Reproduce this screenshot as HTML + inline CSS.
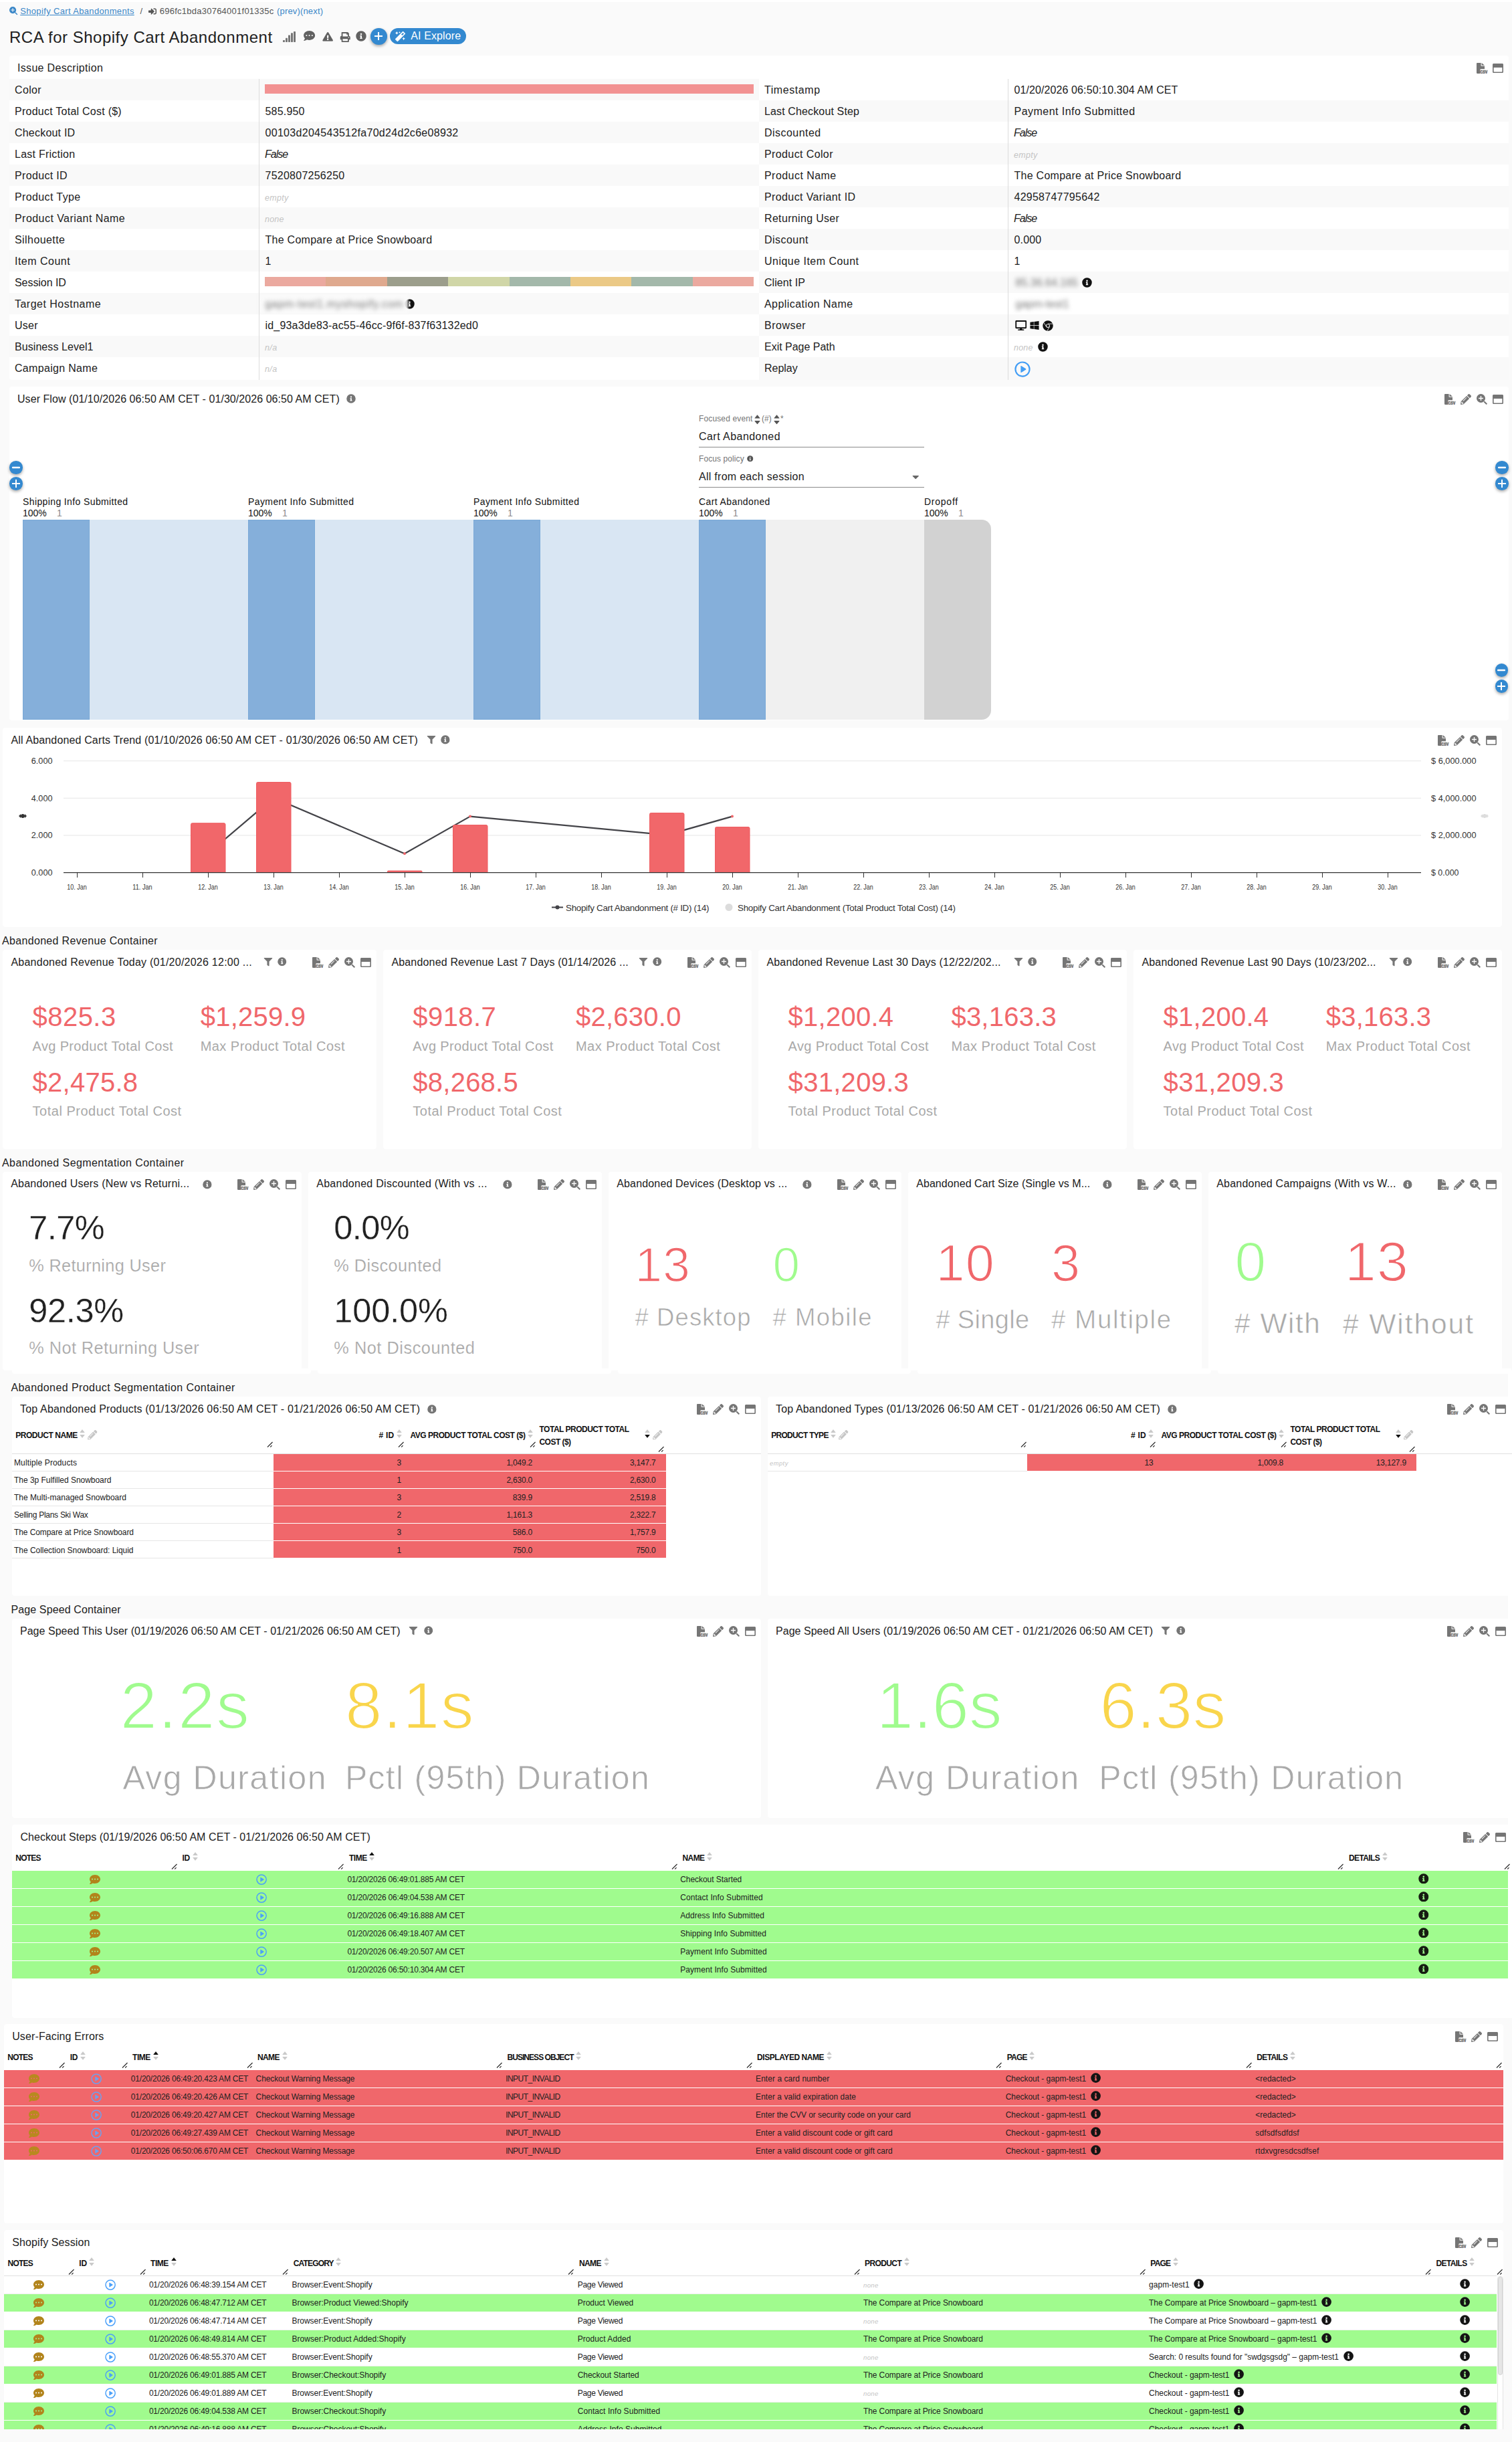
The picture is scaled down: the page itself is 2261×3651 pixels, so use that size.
<!DOCTYPE html>
<html lang="en"><head><meta charset="utf-8"><title>RCA for Shopify Cart Abandonment</title>
<style>
html,body{margin:0;padding:0}
body{width:2261px;height:3651px;background:#fafafa;position:relative;overflow:hidden;font-family:"Liberation Sans",sans-serif;color:#212121}
.t{position:absolute;white-space:nowrap;line-height:1}
.b{position:absolute}
.i{position:absolute;overflow:visible}
.panel{position:absolute;background:#fff;border-radius:4px}
a{color:inherit}
.sortn .up,.sortn .dn{fill:#c4c4c4}
.sortup .up{fill:#111}.sortup .dn{fill:#c4c4c4}
.sortdn .dn{fill:#111}.sortdn .up{fill:#c4c4c4}
.blur{filter:blur(3.2px)}
.fab{position:absolute;border-radius:50%;background:#3389d0;box-shadow:0 2px 4px rgba(0,0,0,.35)}
</style></head>
<body>

<svg width="0" height="0" style="position:absolute">
<defs>
<symbol id="searchplus" viewBox="0 0 512 512"><path fill="currentColor" fill-rule="evenodd" d="M208 0a208 208 0 1 0 0 416a208 208 0 1 0 0-416zM186 96h44v90h90v44h-90v90h-44v-90H96v-44h90z"/><path fill="currentColor" d="M335 380l45-45 123 123q10 10 0 20l-25 25q-10 10-20 0z"/></symbol>
<symbol id="signin" viewBox="0 0 512 512"><path fill="currentColor" d="M416 448h-84c-7 0-12-5-12-12v-40c0-7 5-12 12-12h84c18 0 32-14 32-32V160c0-18-14-32-32-32h-84c-7 0-12-5-12-12V76c0-7 5-12 12-12h84c53 0 96 43 96 96v192c0 53-43 96-96 96zM369 247L201 79c-15-15-41-4-41 17v96H24c-13 0-24 11-24 24v96c0 13 11 24 24 24h136v96c0 21 26 32 41 17l168-168c9-9 9-25 0-34z"/></symbol>
<symbol id="signal" viewBox="0 0 19 16"><g fill="currentColor"><rect x="0" y="13" width="3" height="3" rx=".7"/><rect x="4" y="9.7" width="3" height="6.3" rx=".7"/><rect x="8" y="5.4" width="3" height="10.6" rx=".7"/><rect x="12" y="2.2" width="3" height="13.8" rx=".7"/><rect x="16" y="0" width="3" height="16" rx=".7"/></g></symbol>
<symbol id="comments" viewBox="0 0 576 512"><path fill="currentColor" d="M416 192c0-88-93-160-208-160S0 104 0 192c0 34 14 66 38 92-13 30-35 54-36 54-2 2-3 6-1 9s4 5 8 5c37 0 67-12 89-25 33 16 71 25 110 25 115 0 208-72 208-160z"/><path fill="currentColor" d="M538 412c24-26 38-58 38-92 0-67-54-124-130-148 1 7 2 13 2 20 0 106-108 192-240 192-11 0-21-1-32-2 31 57 105 98 192 98 39 0 76-9 110-25 22 13 52 25 89 25 4 0 7-2 8-5s1-7-1-9c-1 0-23-24-36-54z"/><g fill="#fafafa"><circle cx="120" cy="192" r="26"/><circle cx="208" cy="192" r="26"/><circle cx="296" cy="192" r="26"/></g></symbol>
<symbol id="warn" viewBox="0 0 576 512"><path fill="currentColor" fill-rule="evenodd" d="M570 440c18 32-5 72-42 72H48c-37 0-60-40-42-72L246 24c19-32 65-32 84 0zM288 354a46 46 0 1 0 0 92a46 46 0 1 0 0-92zm-44-165l8 136c0 6 6 11 12 11h48c6 0 12-5 12-11l8-136c0-7-5-13-12-13h-64c-7 0-12 6-12 13z"/></symbol>
<symbol id="print" viewBox="0 0 512 512"><path fill="currentColor" fill-rule="evenodd" d="M448 192V77c0-8-3-17-9-23L393 9c-6-6-14-9-23-9H96C78 0 64 14 64 32v160c-35 0-64 29-64 64v112c0 9 7 16 16 16h48v96c0 18 14 32 32 32h320c18 0 32-14 32-32v-96h48c9 0 16-7 16-16V256c0-35-29-64-64-64zm-64 256H128v-96h256zm0-224H128V64h192v48c0 9 7 16 16 16h48zm48 72a24 24 0 1 1 0-48a24 24 0 1 1 0 48z"/></symbol>
<symbol id="info" viewBox="0 0 512 512"><path fill="currentColor" fill-rule="evenodd" d="M256 8a248 248 0 1 0 0 496a248 248 0 1 0 0-496zm0 110a42 42 0 1 1 0 84a42 42 0 1 1 0-84zm56 254c0 7-5 12-12 12h-88c-7 0-12-5-12-12v-24c0-7 5-12 12-12h12v-64h-12c-7 0-12-5-12-12v-24c0-7 5-12 12-12h64c7 0 12 5 12 12v100h12c7 0 12 5 12 12z"/></symbol>
<symbol id="plus" viewBox="0 0 448 512"><path fill="currentColor" d="M416 208H272V64c0-18-14-32-32-32h-32c-18 0-32 14-32 32v144H32c-18 0-32 14-32 32v32c0 18 14 32 32 32h144v144c0 18 14 32 32 32h32c18 0 32-14 32-32V304h144c18 0 32-14 32-32v-32c0-18-14-32-32-32z"/></symbol>
<symbol id="minus" viewBox="0 0 448 512"><path fill="currentColor" d="M416 208H32c-18 0-32 14-32 32v32c0 18 14 32 32 32h384c18 0 32-14 32-32v-32c0-18-14-32-32-32z"/></symbol>
<symbol id="magic" viewBox="0 0 512 512"><path fill="currentColor" d="M224 96l16-32 32-16-32-16-16-32-16 32-32 16 32 16zM80 160l27-53 53-27-53-27L80 0 53 53 0 80l53 27zm352 128l-27 53-53 27 53 27 27 53 27-53 53-27-53-27zm71-194L418 9c-13-13-33-13-45 0L9 373c-13 13-13 33 0 45l85 85c13 13 33 13 45 0l364-364c12-12 12-32 0-45zM359 203l-50-50 86-86 50 50z"/></symbol>
<symbol id="csv" viewBox="0 0 16.5 16"><path fill="currentColor" d="M1 0H6.6V3.9a.9 .9 0 0 0 .9 .9H12V9.3H6.4a1 1 0 0 0-1 1V16H1.2A1.2 1.2 0 0 1 0 14.8V1A1 1 0 0 1 1 0zM7.6 0L12 3.8H7.6z"/><text x="5.3" y="15.9" font-family="Liberation Mono, monospace" font-weight="bold" font-size="7.6" textLength="11.2" lengthAdjust="spacingAndGlyphs" fill="currentColor" stroke="currentColor" stroke-width=".6">CSV</text></symbol>
<symbol id="pencil" viewBox="0 0 512 512"><path fill="currentColor" d="M498 142l-46 46c-5 5-12 5-17 0L324 77c-5-5-5-12 0-17l46-46c19-19 49-19 68 0l60 60c19 19 19 49 0 68zM284 100L22 362 1 484c-3 16 11 30 27 27l122-21 262-262c5-5 5-12 0-17L301 100c-5-5-12-5-17 0zM124 340c-5-5-5-13 0-18l154-154c5-5 13-5 18 0s5 13 0 18L142 340c-5 5-13 5-18 0zM88 424h48v36l-64 11-31-31 11-64h36z"/></symbol>
<symbol id="window" viewBox="0 0 512 512"><path fill="currentColor" fill-rule="evenodd" d="M464 32H48C22 32 0 54 0 80v352c0 26 22 48 48 48h416c26 0 48-22 48-48V80c0-26-22-48-48-48zm-4 190v194c0 7-5 12-12 12H64c-7 0-12-5-12-12V222z"/></symbol>
<symbol id="filter" viewBox="0 0 512 512"><path fill="currentColor" d="M488 0H24C3 0-8 26 7 41l185 185v206c0 8 4 15 10 20l80 56c16 11 38 0 38-20V226L505 41c15-15 4-41-17-41z"/></symbol>
<symbol id="playc" viewBox="0 0 512 512"><path fill="currentColor" fill-rule="evenodd" d="M256 8a248 248 0 1 0 0 496a248 248 0 1 0 0-496zm0 46a202 202 0 1 1 0 404a202 202 0 1 1 0-404z"/><path fill="currentColor" d="M200 160q0-18 16-9l146 90q14 15 0 30l-146 90q-16 9-16-9z"/></symbol>
<symbol id="cdots" viewBox="0 0 512 512"><path fill="currentColor" fill-rule="evenodd" d="M256 32C115 32 0 125 0 240c0 50 22 95 57 131-13 50-54 95-55 96-2 2-3 6-1 9s4 4 7 4c66 0 116-32 141-52 33 12 69 20 107 20 141 0 256-93 256-208S397 32 256 32zM128 208a32 32 0 1 1 0 64a32 32 0 1 1 0-64zm128 0a32 32 0 1 1 0 64a32 32 0 1 1 0-64zm128 0a32 32 0 1 1 0 64a32 32 0 1 1 0-64z"/></symbol>
<symbol id="desktop" viewBox="0 0 576 512"><path fill="currentColor" fill-rule="evenodd" d="M528 0H48C22 0 0 22 0 48v320c0 26 22 48 48 48h192l-16 48h-72c-13 0-24 11-24 24s11 24 24 24h272c13 0 24-11 24-24s-11-24-24-24h-72l-16-48h192c26 0 48-22 48-48V48c0-26-22-48-48-48zm-16 352H64V64h448z"/></symbol>
<symbol id="windows" viewBox="0 0 448 512"><path fill="currentColor" d="M0 93l184-25v177H0zm0 326l184 25V269H0zm204 28l244 33V269H204zm0-381v179h244V32z"/></symbol>
<symbol id="chrome" viewBox="0 0 496 512"><path fill="currentColor" fill-rule="evenodd" d="M248 8a248 248 0 1 0 0 496a248 248 0 1 0 0-496zM248 164a92 92 0 1 1 0 184a92 92 0 1 1 0-184z"/><circle cx="248" cy="256" r="62" fill="currentColor"/><path stroke="#fafafa" stroke-width="26" fill="none" d="M248 164H470M168 302L58 110M328 302L216 498"/></symbol>
<symbol id="sortud" viewBox="0 0 8 13"><path fill="currentColor" d="M0.5 4.4L3.7 0.5Q4 0.2 4.3 0.5L7.5 4.4Q7.7 4.9 7.2 4.9H0.8Q0.3 4.9 0.5 4.4z"/><path fill="currentColor" d="M0.5 8.6L3.7 12.5Q4 12.8 4.3 12.5L7.5 8.6Q7.7 8.1 7.2 8.1H0.8Q0.3 8.1 0.5 8.6z"/></symbol>
<symbol id="sortn" viewBox="0 0 8 13"><path fill="#c9c9c9" d="M0.5 4.4L3.7 0.5Q4 0.2 4.3 0.5L7.5 4.4Q7.7 4.9 7.2 4.9H0.8Q0.3 4.9 0.5 4.4z"/><path fill="#c9c9c9" d="M0.5 8.6L3.7 12.5Q4 12.8 4.3 12.5L7.5 8.6Q7.7 8.1 7.2 8.1H0.8Q0.3 8.1 0.5 8.6z"/></symbol>
<symbol id="sortup" viewBox="0 0 8 13"><path fill="#111" d="M0.5 4.4L3.7 0.5Q4 0.2 4.3 0.5L7.5 4.4Q7.7 4.9 7.2 4.9H0.8Q0.3 4.9 0.5 4.4z"/><path fill="#c9c9c9" d="M0.5 8.6L3.7 12.5Q4 12.8 4.3 12.5L7.5 8.6Q7.7 8.1 7.2 8.1H0.8Q0.3 8.1 0.5 8.6z"/></symbol>
<symbol id="sortdn" viewBox="0 0 8 13"><path fill="#c9c9c9" d="M0.5 4.4L3.7 0.5Q4 0.2 4.3 0.5L7.5 4.4Q7.7 4.9 7.2 4.9H0.8Q0.3 4.9 0.5 4.4z"/><path fill="#111" d="M0.5 8.6L3.7 12.5Q4 12.8 4.3 12.5L7.5 8.6Q7.7 8.1 7.2 8.1H0.8Q0.3 8.1 0.5 8.6z"/></symbol>
<symbol id="caretdn" viewBox="0 0 320 512"><path fill="currentColor" d="M31 192h258c17 0 26 21 14 33L174 354c-7 7-20 7-28 0L17 225c-12-12-3-33 14-33z"/></symbol>
<symbol id="fplus" viewBox="0 0 12 12"><path fill="currentColor" d="M5 0h2v5h5v2H7v5H5V7H0V5h5z"/></symbol>
<symbol id="fminus" viewBox="0 0 12 12"><rect x="0" y="4.8" width="12" height="2.4" rx="1" fill="currentColor"/></symbol>
<symbol id="rsz" viewBox="0 0 10 10"><path d="M1 9L9 1M5.5 9L8 6.5" stroke="currentColor" stroke-width="1.3" fill="none"/></symbol>
<symbol id="arrh" viewBox="0 0 12 8"><path fill="currentColor" d="M0 4l3-3v2h1.6a2.6 2.6 0 0 1 2.8 0H9V1l3 3-3 3V5H7.4a2.6 2.6 0 0 1-2.8 0H3v2z"/><circle cx="6" cy="4" r="2.9" fill="currentColor"/></symbol>
</defs></svg>

<div class="b" style="left:0.0px;top:0.0px;width:2261.0px;height:3.0px;background:#fff;"></div>
<svg class="i" style="left:14.0px;top:10.0px;width:12.5px;height:12.5px;color:#3a87c8;"><use href="#searchplus"/></svg>
<a href="#">
<span class="t" style="left:30.2px;top:10.0px;font-size:13.00px;letter-spacing:0.349px;color:#3a87c8;text-decoration:underline;">Shopify Cart Abandonments</span>
</a>
<span class="t" style="left:209.5px;top:10.0px;font-size:13.00px;letter-spacing:1.161px;color:#555;">/</span>
<svg class="i" style="left:222.0px;top:10.5px;width:12.0px;height:12.0px;color:#555;"><use href="#signin"/></svg>
<span class="t" style="left:238.8px;top:10.0px;font-size:13.00px;letter-spacing:0.245px;color:#555;">696fc1bda30764001f01335c</span>
<span class="t" style="left:414.0px;top:10.0px;font-size:13.00px;letter-spacing:0.164px;color:#3a87c8;">(prev)(next)</span>
<span class="t" style="left:14.0px;top:43.7px;font-size:24.00px;letter-spacing:0.501px;color:#212121;">RCA for Shopify Cart Abandonment</span>
<svg class="i" style="left:423.0px;top:46.9px;width:19.0px;height:16.0px;color:#757575;"><use href="#signal"/></svg>
<svg class="i" style="left:452.8px;top:44.6px;width:19.2px;height:17.0px;color:#616161;"><use href="#cdots"/></svg>
<svg class="i" style="left:482.1px;top:48.0px;width:16.3px;height:13.8px;color:#616161;"><use href="#warn"/></svg>
<svg class="i" style="left:508.4px;top:47.8px;width:16.5px;height:15.0px;color:#616161;"><use href="#print"/></svg>
<svg class="i" style="left:532.2px;top:46.3px;width:16.0px;height:16.0px;color:#616161;"><use href="#info"/></svg>
<div class="fab" style="left:554.2px;top:42.2px;width:24.4px;height:24.4px"></div>
<svg class="i" style="left:560.4px;top:48.4px;width:12.0px;height:12.0px;color:#fff;"><use href="#fplus"/></svg>
<div class="b" style="left:583px;top:42.2px;width:114px;height:23.4px;border-radius:12px;background:#3389d0"></div>
<svg class="i" style="left:591.0px;top:47.0px;width:15.0px;height:15.0px;color:#fff;"><use href="#magic"/></svg>
<span class="t" style="left:614.2px;top:46.3px;font-size:16.00px;letter-spacing:0.125px;color:#fff;">AI Explore</span>
<div class="panel" style="left:14.0px;top:83.0px;width:2242.0px;height:485.0px;">
</div>
<span class="t" style="left:26.0px;top:93.8px;font-size:16.00px;letter-spacing:0.318px;color:#212121;">Issue Description</span>
<svg class="i" style="left:2232.0px;top:94.0px;width:16.0px;height:16.0px;color:#757575;"><use href="#window"/></svg>
<svg class="i" style="left:2207.7px;top:94.0px;width:16.5px;height:16.0px;color:#757575;"><use href="#csv"/></svg>
<div class="b" style="left:14.0px;top:118.1px;width:1121.0px;height:32.0px;background:#f9f9f9;"></div>
<span class="t" style="left:22.0px;top:126.9px;font-size:16.00px;letter-spacing:0.353px;color:#212121;">Color</span>
<div class="b" style="left:396.0px;top:126.3px;width:731.0px;height:13.4px;background:#f29292;"></div>
<span class="t" style="left:22.0px;top:158.9px;font-size:16.00px;letter-spacing:0.250px;color:#212121;">Product Total Cost ($)</span>
<span class="t" style="left:396.5px;top:158.9px;font-size:16.00px;letter-spacing:0.187px;color:#212121;">585.950</span>
<div class="b" style="left:14.0px;top:182.1px;width:1121.0px;height:32.0px;background:#f9f9f9;"></div>
<span class="t" style="left:22.0px;top:190.9px;font-size:16.00px;letter-spacing:0.207px;color:#212121;">Checkout ID</span>
<span class="t" style="left:396.5px;top:190.9px;font-size:16.00px;letter-spacing:0.301px;color:#212121;">00103d204543512fa70d24d2c6e08932</span>
<span class="t" style="left:22.0px;top:222.9px;font-size:16.00px;letter-spacing:0.241px;color:#212121;">Last Friction</span>
<span class="t" style="left:396.0px;top:222.9px;font-size:16.00px;letter-spacing:-1.019px;color:#212121;font-style:italic;">False</span>
<div class="b" style="left:14.0px;top:246.1px;width:1121.0px;height:32.0px;background:#f9f9f9;"></div>
<span class="t" style="left:22.0px;top:254.9px;font-size:16.00px;letter-spacing:0.341px;color:#212121;">Product ID</span>
<span class="t" style="left:396.5px;top:254.9px;font-size:16.00px;letter-spacing:0.250px;color:#212121;">7520807256250</span>
<span class="t" style="left:22.0px;top:286.9px;font-size:16.00px;letter-spacing:0.382px;color:#212121;">Product Type</span>
<span class="t" style="left:396.0px;top:290.0px;font-size:12.50px;letter-spacing:0.298px;color:#c4c4c4;font-style:italic;">empty</span>
<div class="b" style="left:14.0px;top:310.1px;width:1121.0px;height:32.0px;background:#f9f9f9;"></div>
<span class="t" style="left:22.0px;top:318.9px;font-size:16.00px;letter-spacing:0.450px;color:#212121;">Product Variant Name</span>
<span class="t" style="left:396.0px;top:322.0px;font-size:12.50px;letter-spacing:0.226px;color:#c4c4c4;font-style:italic;">none</span>
<span class="t" style="left:22.0px;top:350.9px;font-size:16.00px;letter-spacing:0.426px;color:#212121;">Silhouette</span>
<span class="t" style="left:396.5px;top:350.9px;font-size:16.00px;letter-spacing:0.266px;color:#212121;">The Compare at Price Snowboard</span>
<div class="b" style="left:14.0px;top:374.1px;width:1121.0px;height:32.0px;background:#f9f9f9;"></div>
<span class="t" style="left:22.0px;top:382.9px;font-size:16.00px;letter-spacing:0.491px;color:#212121;">Item Count</span>
<span class="t" style="left:396.5px;top:382.9px;font-size:16.00px;letter-spacing:0.250px;color:#212121;">1</span>
<span class="t" style="left:22.0px;top:414.9px;font-size:16.00px;letter-spacing:-0.053px;color:#212121;">Session ID</span>
<div class="b" style="left:396.0px;top:413.9px;width:91.7px;height:14.2px;background:#eba99f;"></div>
<div class="b" style="left:487.4px;top:413.9px;width:91.7px;height:14.2px;background:#dfa98e;"></div>
<div class="b" style="left:578.8px;top:413.9px;width:91.7px;height:14.2px;background:#9c9e8c;"></div>
<div class="b" style="left:670.1px;top:413.9px;width:91.7px;height:14.2px;background:#d0d6a7;"></div>
<div class="b" style="left:761.5px;top:413.9px;width:91.7px;height:14.2px;background:#a3b8aa;"></div>
<div class="b" style="left:852.9px;top:413.9px;width:91.7px;height:14.2px;background:#ebc986;"></div>
<div class="b" style="left:944.2px;top:413.9px;width:91.7px;height:14.2px;background:#a3b8aa;"></div>
<div class="b" style="left:1035.6px;top:413.9px;width:91.7px;height:14.2px;background:#eba99f;"></div>
<div class="b" style="left:14.0px;top:438.1px;width:1121.0px;height:32.0px;background:#f9f9f9;"></div>
<span class="t" style="left:22.0px;top:446.9px;font-size:16.00px;letter-spacing:0.488px;color:#212121;">Target Hostname</span>
<svg class="i" style="left:604.5px;top:446.7px;width:15.0px;height:15.0px;color:#111;"><use href="#info"/></svg>
<div class="b" style="left:386px;top:439.6px;width:224px;height:29px;background:rgba(249,249,249,.9);filter:blur(1.5px)"></div>
<span class="t blur" style="left:396.5px;top:446.9px;font-size:16px;letter-spacing:.7px;color:#777">gapm-test1.myshopify.com</span>
<span class="t" style="left:22.0px;top:478.9px;font-size:16.00px;letter-spacing:0.252px;color:#212121;">User</span>
<span class="t" style="left:396.5px;top:478.9px;font-size:16.00px;letter-spacing:0.182px;color:#212121;">id_93a3de83-ac55-46cc-9f6f-837f63132ed0</span>
<div class="b" style="left:14.0px;top:502.1px;width:1121.0px;height:32.0px;background:#f9f9f9;"></div>
<span class="t" style="left:22.0px;top:510.9px;font-size:16.00px;letter-spacing:0.069px;color:#212121;">Business Level1</span>
<span class="t" style="left:396.0px;top:514.0px;font-size:12.50px;letter-spacing:0.356px;color:#c4c4c4;font-style:italic;">n/a</span>
<span class="t" style="left:22.0px;top:542.9px;font-size:16.00px;letter-spacing:0.318px;color:#212121;">Campaign Name</span>
<span class="t" style="left:396.0px;top:546.0px;font-size:12.50px;letter-spacing:0.356px;color:#c4c4c4;font-style:italic;">n/a</span>
<div class="b" style="left:386.5px;top:118.1px;width:1.2px;height:449.9px;background:#dcdcdc;"></div>
<span class="t" style="left:1143.0px;top:126.9px;font-size:16.00px;letter-spacing:0.566px;color:#212121;">Timestamp</span>
<span class="t" style="left:1516.5px;top:126.9px;font-size:16.00px;letter-spacing:0.099px;color:#212121;">01/20/2026 06:50:10.304 AM CET</span>
<div class="b" style="left:1135.0px;top:150.1px;width:1121.0px;height:32.0px;background:#f9f9f9;"></div>
<span class="t" style="left:1143.0px;top:158.9px;font-size:16.00px;letter-spacing:0.133px;color:#212121;">Last Checkout Step</span>
<span class="t" style="left:1516.5px;top:158.9px;font-size:16.00px;letter-spacing:0.466px;color:#212121;">Payment Info Submitted</span>
<span class="t" style="left:1143.0px;top:190.9px;font-size:16.00px;letter-spacing:0.465px;color:#212121;">Discounted</span>
<span class="t" style="left:1516.0px;top:190.9px;font-size:16.00px;letter-spacing:-1.019px;color:#212121;font-style:italic;">False</span>
<div class="b" style="left:1135.0px;top:214.1px;width:1121.0px;height:32.0px;background:#f9f9f9;"></div>
<span class="t" style="left:1143.0px;top:222.9px;font-size:16.00px;letter-spacing:0.389px;color:#212121;">Product Color</span>
<span class="t" style="left:1516.0px;top:226.0px;font-size:12.50px;letter-spacing:0.298px;color:#c4c4c4;font-style:italic;">empty</span>
<span class="t" style="left:1143.0px;top:254.9px;font-size:16.00px;letter-spacing:0.452px;color:#212121;">Product Name</span>
<span class="t" style="left:1516.5px;top:254.9px;font-size:16.00px;letter-spacing:0.266px;color:#212121;">The Compare at Price Snowboard</span>
<div class="b" style="left:1135.0px;top:278.1px;width:1121.0px;height:32.0px;background:#f9f9f9;"></div>
<span class="t" style="left:1143.0px;top:286.9px;font-size:16.00px;letter-spacing:0.388px;color:#212121;">Product Variant ID</span>
<span class="t" style="left:1516.5px;top:286.9px;font-size:16.00px;letter-spacing:0.250px;color:#212121;">42958747795642</span>
<span class="t" style="left:1143.0px;top:318.9px;font-size:16.00px;letter-spacing:0.333px;color:#212121;">Returning User</span>
<span class="t" style="left:1516.0px;top:318.9px;font-size:16.00px;letter-spacing:-1.019px;color:#212121;font-style:italic;">False</span>
<div class="b" style="left:1135.0px;top:342.1px;width:1121.0px;height:32.0px;background:#f9f9f9;"></div>
<span class="t" style="left:1143.0px;top:350.9px;font-size:16.00px;letter-spacing:0.458px;color:#212121;">Discount</span>
<span class="t" style="left:1516.5px;top:350.9px;font-size:16.00px;letter-spacing:0.162px;color:#212121;">0.000</span>
<span class="t" style="left:1143.0px;top:382.9px;font-size:16.00px;letter-spacing:0.473px;color:#212121;">Unique Item Count</span>
<span class="t" style="left:1516.5px;top:382.9px;font-size:16.00px;letter-spacing:0.250px;color:#212121;">1</span>
<div class="b" style="left:1135.0px;top:406.1px;width:1121.0px;height:32.0px;background:#f9f9f9;"></div>
<span class="t" style="left:1143.0px;top:414.9px;font-size:16.00px;letter-spacing:0.046px;color:#212121;">Client IP</span>
<span class="t blur" style="left:1518.5px;top:414.9px;font-size:16px;color:#777">85.36.64.165</span>
<svg class="i" style="left:1618.0px;top:414.7px;width:15.0px;height:15.0px;color:#111;"><use href="#info"/></svg>
<span class="t" style="left:1143.0px;top:446.9px;font-size:16.00px;letter-spacing:0.444px;color:#212121;">Application Name</span>
<span class="t blur" style="left:1518.5px;top:446.9px;font-size:16px;color:#777">gapm-test1</span>
<div class="b" style="left:1135.0px;top:470.1px;width:1121.0px;height:32.0px;background:#f9f9f9;"></div>
<span class="t" style="left:1143.0px;top:478.9px;font-size:16.00px;letter-spacing:0.495px;color:#212121;">Browser</span>
<svg class="i" style="left:1517.5px;top:479.1px;width:17.5px;height:15.0px;color:#111;"><use href="#desktop"/></svg>
<svg class="i" style="left:1540.0px;top:479.1px;width:14.0px;height:15.0px;color:#111;"><use href="#windows"/></svg>
<svg class="i" style="left:1558.5px;top:478.6px;width:16.0px;height:16.0px;color:#111;"><use href="#chrome"/></svg>
<span class="t" style="left:1143.0px;top:510.9px;font-size:16.00px;letter-spacing:-0.019px;color:#212121;">Exit Page Path</span>
<span class="t" style="left:1516.0px;top:514.0px;font-size:12.50px;letter-spacing:0.226px;color:#c4c4c4;font-style:italic;">none</span>
<svg class="i" style="left:1552.0px;top:510.7px;width:15.0px;height:15.0px;color:#111;"><use href="#info"/></svg>
<div class="b" style="left:1135.0px;top:534.1px;width:1121.0px;height:33.9px;background:#f9f9f9;"></div>
<span class="t" style="left:1143.0px;top:542.9px;font-size:16.00px;letter-spacing:-0.021px;color:#212121;">Replay</span>
<svg class="i" style="left:1516.9px;top:539.9px;width:24.0px;height:24.0px;color:#429df5;"><use href="#playc"/></svg>
<div class="b" style="left:1506.5px;top:118.1px;width:1.2px;height:449.9px;background:#dcdcdc;"></div>
<div class="panel" style="left:14.0px;top:578.0px;width:2242.0px;height:499.2px;">
</div>
<span class="t" style="left:26.0px;top:588.5px;font-size:16.00px;letter-spacing:0.059px;color:#212121;">User Flow (01/10/2026 06:50 AM CET - 01/30/2026 06:50 AM CET)</span>
<svg class="i" style="left:517.8px;top:589.0px;width:14.0px;height:14.0px;color:#757575;"><use href="#info"/></svg>
<svg class="i" style="left:2232.0px;top:588.5px;width:16.0px;height:16.0px;color:#757575;"><use href="#window"/></svg>
<svg class="i" style="left:2208.0px;top:588.5px;width:16.0px;height:16.0px;color:#757575;"><use href="#searchplus"/></svg>
<svg class="i" style="left:2184.0px;top:588.5px;width:16.0px;height:16.0px;color:#757575;"><use href="#pencil"/></svg>
<svg class="i" style="left:2159.7px;top:588.5px;width:16.5px;height:16.0px;color:#757575;"><use href="#csv"/></svg>
<span class="t" style="left:1045.0px;top:619.8px;font-size:12.00px;letter-spacing:0.139px;color:#757575;">Focused event</span>
<svg class="i" style="left:1127.8px;top:620.0px;width:9.0px;height:14.6px;color:#555;"><use href="#sortud"/></svg>
<span class="t" style="left:1139.0px;top:619.8px;font-size:12.00px;letter-spacing:0.062px;color:#757575;">(#)</span>
<svg class="i" style="left:1156.6px;top:620.0px;width:9.0px;height:14.6px;color:#555;"><use href="#sortud"/></svg>
<span class="t" style="left:1167.0px;top:619.8px;font-size:12.00px;letter-spacing:1.951px;color:#757575;">*</span>
<span class="t" style="left:1045.0px;top:644.5px;font-size:16.00px;letter-spacing:0.457px;color:#212121;">Cart Abandoned</span>
<div class="b" style="left:1045.0px;top:667.5px;width:337.0px;height:1.0px;background:#8a8a8a;"></div>
<span class="t" style="left:1045.0px;top:679.8px;font-size:12.00px;letter-spacing:0.092px;color:#757575;">Focus policy</span>
<svg class="i" style="left:1116.5px;top:680.5px;width:9.5px;height:9.5px;color:#555;"><use href="#info"/></svg>
<span class="t" style="left:1045.0px;top:704.5px;font-size:16.00px;letter-spacing:0.278px;color:#212121;">All from each session</span>
<svg class="i" style="left:1364.0px;top:705.0px;width:10.5px;height:16.0px;color:#666;"><use href="#caretdn"/></svg>
<div class="b" style="left:1045.0px;top:728.0px;width:337.0px;height:1.0px;background:#8a8a8a;"></div>
<span class="t" style="left:34.0px;top:743.1px;font-size:14.00px;letter-spacing:0.384px;color:#111;">Shipping Info Submitted</span>
<span class="t" style="left:34.0px;top:759.8px;font-size:14.00px;letter-spacing:-0.067px;color:#111;">100%</span>
<span class="t" style="left:85.0px;top:759.8px;font-size:14.00px;letter-spacing:0.218px;color:#8a8a8a;">1</span>
<div class="b" style="left:34.0px;top:777.0px;width:99.6px;height:298.9px;background:#85afda;box-shadow:inset 0 0 0 1px #7aa9d7;"></div>
<div class="b" style="left:134.0px;top:777.0px;width:237.0px;height:298.9px;background:#d9e6f3;"></div>
<span class="t" style="left:371.0px;top:743.1px;font-size:14.00px;letter-spacing:0.408px;color:#111;">Payment Info Submitted</span>
<span class="t" style="left:371.0px;top:759.8px;font-size:14.00px;letter-spacing:-0.067px;color:#111;">100%</span>
<span class="t" style="left:422.0px;top:759.8px;font-size:14.00px;letter-spacing:0.218px;color:#8a8a8a;">1</span>
<div class="b" style="left:371.0px;top:777.0px;width:99.6px;height:298.9px;background:#85afda;box-shadow:inset 0 0 0 1px #7aa9d7;"></div>
<div class="b" style="left:471.0px;top:777.0px;width:237.0px;height:298.9px;background:#d9e6f3;"></div>
<span class="t" style="left:708.0px;top:743.1px;font-size:14.00px;letter-spacing:0.408px;color:#111;">Payment Info Submitted</span>
<span class="t" style="left:708.0px;top:759.8px;font-size:14.00px;letter-spacing:-0.067px;color:#111;">100%</span>
<span class="t" style="left:759.0px;top:759.8px;font-size:14.00px;letter-spacing:0.218px;color:#8a8a8a;">1</span>
<div class="b" style="left:708.0px;top:777.0px;width:99.6px;height:298.9px;background:#85afda;box-shadow:inset 0 0 0 1px #7aa9d7;"></div>
<div class="b" style="left:808.0px;top:777.0px;width:237.0px;height:298.9px;background:#d9e6f3;"></div>
<span class="t" style="left:1045.0px;top:743.1px;font-size:14.00px;letter-spacing:0.400px;color:#111;">Cart Abandoned</span>
<span class="t" style="left:1045.0px;top:759.8px;font-size:14.00px;letter-spacing:-0.067px;color:#111;">100%</span>
<span class="t" style="left:1096.0px;top:759.8px;font-size:14.00px;letter-spacing:0.218px;color:#8a8a8a;">1</span>
<div class="b" style="left:1045.0px;top:777.0px;width:99.6px;height:298.9px;background:#85afda;box-shadow:inset 0 0 0 1px #7aa9d7;"></div>
<div class="b" style="left:1145.0px;top:777.0px;width:237.0px;height:298.9px;background:#f0f0f0;"></div>
<span class="t" style="left:1382.0px;top:743.1px;font-size:14.00px;letter-spacing:0.749px;color:#111;">Dropoff</span>
<span class="t" style="left:1382.0px;top:759.8px;font-size:14.00px;letter-spacing:-0.067px;color:#111;">100%</span>
<span class="t" style="left:1433.0px;top:759.8px;font-size:14.00px;letter-spacing:0.218px;color:#8a8a8a;">1</span>
<div class="b" style="left:1382.0px;top:777.0px;width:100.0px;height:298.9px;background:#d2d2d2;border-radius:0 14px 14px 0;"></div>
<div class="fab" style="left:14.2px;top:689.2px;width:19.6px;height:19.6px"></div>
<svg class="i" style="left:18.0px;top:693.0px;width:12.0px;height:12.0px;color:#fff;"><use href="#fminus"/></svg>
<div class="fab" style="left:14.2px;top:713.2px;width:19.6px;height:19.6px"></div>
<svg class="i" style="left:18.0px;top:717.0px;width:12.0px;height:12.0px;color:#fff;"><use href="#fplus"/></svg>
<div class="fab" style="left:2236.1px;top:689.2px;width:19.6px;height:19.6px"></div>
<svg class="i" style="left:2239.9px;top:693.0px;width:12.0px;height:12.0px;color:#fff;"><use href="#fminus"/></svg>
<div class="fab" style="left:2236.1px;top:713.2px;width:19.6px;height:19.6px"></div>
<svg class="i" style="left:2239.9px;top:717.0px;width:12.0px;height:12.0px;color:#fff;"><use href="#fplus"/></svg>
<div class="fab" style="left:2235.6px;top:992.2px;width:19.6px;height:19.6px"></div>
<svg class="i" style="left:2239.4px;top:996.0px;width:12.0px;height:12.0px;color:#fff;"><use href="#fminus"/></svg>
<div class="fab" style="left:2235.6px;top:1016.2px;width:19.6px;height:19.6px"></div>
<svg class="i" style="left:2239.4px;top:1020.0px;width:12.0px;height:12.0px;color:#fff;"><use href="#fplus"/></svg>
<div class="panel" style="left:4.0px;top:1088.0px;width:2242.0px;height:298.0px;">
</div>
<span class="t" style="left:16.5px;top:1098.5px;font-size:16.00px;letter-spacing:0.144px;color:#212121;">All Abandoned Carts Trend (01/10/2026 06:50 AM CET - 01/30/2026 06:50 AM CET)</span>
<svg class="i" style="left:638.0px;top:1099.5px;width:14.0px;height:12.5px;color:#757575;"><use href="#filter"/></svg>
<svg class="i" style="left:659.2px;top:1099.0px;width:13.8px;height:13.8px;color:#757575;"><use href="#info"/></svg>
<svg class="i" style="left:2222.0px;top:1098.9px;width:16.0px;height:16.0px;color:#757575;"><use href="#window"/></svg>
<svg class="i" style="left:2198.0px;top:1098.9px;width:16.0px;height:16.0px;color:#757575;"><use href="#searchplus"/></svg>
<svg class="i" style="left:2174.0px;top:1098.9px;width:16.0px;height:16.0px;color:#757575;"><use href="#pencil"/></svg>
<svg class="i" style="left:2149.7px;top:1098.9px;width:16.5px;height:16.0px;color:#757575;"><use href="#csv"/></svg>
<svg class="i" style="left:0;top:1120px;width:2261px;height:266px" viewBox="0 1120 2261 266" font-family="Liberation Sans, sans-serif"><text x="78.5" y="1308.8" text-anchor="end" font-size="13.2" fill="#333" textLength="31.7" lengthAdjust="spacingAndGlyphs">0.000</text><text x="2140" y="1308.8" font-size="13.2" fill="#333" textLength="41.5" lengthAdjust="spacingAndGlyphs">$ 0.000</text><line x1="95" x2="2125" y1="1248.9" y2="1248.9" stroke="#e6e6e6" stroke-width="1"/><text x="78.5" y="1253.2" text-anchor="end" font-size="13.2" fill="#333" textLength="31.7" lengthAdjust="spacingAndGlyphs">2.000</text><text x="2140" y="1253.2" font-size="13.2" fill="#333" textLength="67.5" lengthAdjust="spacingAndGlyphs">$ 2,000.000</text><line x1="95" x2="2125" y1="1193.3" y2="1193.3" stroke="#e6e6e6" stroke-width="1"/><text x="78.5" y="1197.6" text-anchor="end" font-size="13.2" fill="#333" textLength="31.7" lengthAdjust="spacingAndGlyphs">4.000</text><text x="2140" y="1197.6" font-size="13.2" fill="#333" textLength="67.5" lengthAdjust="spacingAndGlyphs">$ 4,000.000</text><line x1="95" x2="2125" y1="1137.7" y2="1137.7" stroke="#e6e6e6" stroke-width="1"/><text x="78.5" y="1142.0" text-anchor="end" font-size="13.2" fill="#333" textLength="31.7" lengthAdjust="spacingAndGlyphs">6.000</text><text x="2140" y="1142.0" font-size="13.2" fill="#333" textLength="67.5" lengthAdjust="spacingAndGlyphs">$ 6,000.000</text><line x1="115.5" x2="115.5" y1="1304.5" y2="1312" stroke="#333" stroke-width="1"/><text x="115.0" y="1330" text-anchor="middle" font-size="10" fill="#333" textLength="29.4" lengthAdjust="spacingAndGlyphs">10. Jan</text><line x1="213.5" x2="213.5" y1="1304.5" y2="1312" stroke="#333" stroke-width="1"/><text x="213.0" y="1330" text-anchor="middle" font-size="10" fill="#333" textLength="29.4" lengthAdjust="spacingAndGlyphs">11. Jan</text><line x1="311.5" x2="311.5" y1="1304.5" y2="1312" stroke="#333" stroke-width="1"/><text x="311.0" y="1330" text-anchor="middle" font-size="10" fill="#333" textLength="29.4" lengthAdjust="spacingAndGlyphs">12. Jan</text><line x1="409.5" x2="409.5" y1="1304.5" y2="1312" stroke="#333" stroke-width="1"/><text x="409.0" y="1330" text-anchor="middle" font-size="10" fill="#333" textLength="29.4" lengthAdjust="spacingAndGlyphs">13. Jan</text><line x1="507.5" x2="507.5" y1="1304.5" y2="1312" stroke="#333" stroke-width="1"/><text x="507.0" y="1330" text-anchor="middle" font-size="10" fill="#333" textLength="29.4" lengthAdjust="spacingAndGlyphs">14. Jan</text><line x1="605.5" x2="605.5" y1="1304.5" y2="1312" stroke="#333" stroke-width="1"/><text x="605.0" y="1330" text-anchor="middle" font-size="10" fill="#333" textLength="29.4" lengthAdjust="spacingAndGlyphs">15. Jan</text><line x1="703.5" x2="703.5" y1="1304.5" y2="1312" stroke="#333" stroke-width="1"/><text x="703.0" y="1330" text-anchor="middle" font-size="10" fill="#333" textLength="29.4" lengthAdjust="spacingAndGlyphs">16. Jan</text><line x1="801.5" x2="801.5" y1="1304.5" y2="1312" stroke="#333" stroke-width="1"/><text x="801.0" y="1330" text-anchor="middle" font-size="10" fill="#333" textLength="29.4" lengthAdjust="spacingAndGlyphs">17. Jan</text><line x1="899.5" x2="899.5" y1="1304.5" y2="1312" stroke="#333" stroke-width="1"/><text x="899.0" y="1330" text-anchor="middle" font-size="10" fill="#333" textLength="29.4" lengthAdjust="spacingAndGlyphs">18. Jan</text><line x1="997.5" x2="997.5" y1="1304.5" y2="1312" stroke="#333" stroke-width="1"/><text x="997.0" y="1330" text-anchor="middle" font-size="10" fill="#333" textLength="29.4" lengthAdjust="spacingAndGlyphs">19. Jan</text><line x1="1095.5" x2="1095.5" y1="1304.5" y2="1312" stroke="#333" stroke-width="1"/><text x="1095.0" y="1330" text-anchor="middle" font-size="10" fill="#333" textLength="29.4" lengthAdjust="spacingAndGlyphs">20. Jan</text><line x1="1193.5" x2="1193.5" y1="1304.5" y2="1312" stroke="#333" stroke-width="1"/><text x="1193.0" y="1330" text-anchor="middle" font-size="10" fill="#333" textLength="29.4" lengthAdjust="spacingAndGlyphs">21. Jan</text><line x1="1291.5" x2="1291.5" y1="1304.5" y2="1312" stroke="#333" stroke-width="1"/><text x="1291.0" y="1330" text-anchor="middle" font-size="10" fill="#333" textLength="29.4" lengthAdjust="spacingAndGlyphs">22. Jan</text><line x1="1389.5" x2="1389.5" y1="1304.5" y2="1312" stroke="#333" stroke-width="1"/><text x="1389.0" y="1330" text-anchor="middle" font-size="10" fill="#333" textLength="29.4" lengthAdjust="spacingAndGlyphs">23. Jan</text><line x1="1487.5" x2="1487.5" y1="1304.5" y2="1312" stroke="#333" stroke-width="1"/><text x="1487.0" y="1330" text-anchor="middle" font-size="10" fill="#333" textLength="29.4" lengthAdjust="spacingAndGlyphs">24. Jan</text><line x1="1585.5" x2="1585.5" y1="1304.5" y2="1312" stroke="#333" stroke-width="1"/><text x="1585.0" y="1330" text-anchor="middle" font-size="10" fill="#333" textLength="29.4" lengthAdjust="spacingAndGlyphs">25. Jan</text><line x1="1683.5" x2="1683.5" y1="1304.5" y2="1312" stroke="#333" stroke-width="1"/><text x="1683.0" y="1330" text-anchor="middle" font-size="10" fill="#333" textLength="29.4" lengthAdjust="spacingAndGlyphs">26. Jan</text><line x1="1781.5" x2="1781.5" y1="1304.5" y2="1312" stroke="#333" stroke-width="1"/><text x="1781.0" y="1330" text-anchor="middle" font-size="10" fill="#333" textLength="29.4" lengthAdjust="spacingAndGlyphs">27. Jan</text><line x1="1879.5" x2="1879.5" y1="1304.5" y2="1312" stroke="#333" stroke-width="1"/><text x="1879.0" y="1330" text-anchor="middle" font-size="10" fill="#333" textLength="29.4" lengthAdjust="spacingAndGlyphs">28. Jan</text><line x1="1977.5" x2="1977.5" y1="1304.5" y2="1312" stroke="#333" stroke-width="1"/><text x="1977.0" y="1330" text-anchor="middle" font-size="10" fill="#333" textLength="29.4" lengthAdjust="spacingAndGlyphs">29. Jan</text><line x1="2075.5" x2="2075.5" y1="1304.5" y2="1312" stroke="#333" stroke-width="1"/><text x="2075.0" y="1330" text-anchor="middle" font-size="10" fill="#333" textLength="29.4" lengthAdjust="spacingAndGlyphs">30. Jan</text><polyline points="311.0,1276.2 409.0,1192.8 605.0,1276.2 703.0,1220.6 997.0,1248.4 1095.0,1220.6" fill="none" stroke="#434348" stroke-width="2.2" stroke-linejoin="round"/><circle cx="311.0" cy="1276.2" r="2" fill="#f0676b"/><circle cx="409.0" cy="1192.8" r="2" fill="#f0676b"/><circle cx="605.0" cy="1276.2" r="2" fill="#f0676b"/><circle cx="703.0" cy="1220.6" r="2" fill="#f0676b"/><circle cx="997.0" cy="1248.4" r="2" fill="#f0676b"/><circle cx="1095.0" cy="1220.6" r="2" fill="#f0676b"/><path d="M285.5 1304.3V1232.7Q285.5 1230.7 287.5 1230.7H335.0Q337.0 1230.7 337.0 1232.7V1304.3z" fill="#f1676a" stroke="#ee5d61" stroke-width="1"/><path d="M383.5 1304.3V1171.5Q383.5 1169.5 385.5 1169.5H433.0Q435.0 1169.5 435.0 1171.5V1304.3z" fill="#f1676a" stroke="#ee5d61" stroke-width="1"/><path d="M579.5 1304.3V1303.0Q579.5 1302.0 580.5 1302.0H630.0Q631.0 1302.0 631.0 1303.0V1304.3z" fill="#f1676a" stroke="#ee5d61" stroke-width="1"/><path d="M677.5 1304.3V1235.5Q677.5 1233.5 679.5 1233.5H727.0Q729.0 1233.5 729.0 1235.5V1304.3z" fill="#f1676a" stroke="#ee5d61" stroke-width="1"/><path d="M971.5 1304.3V1217.5Q971.5 1215.5 973.5 1215.5H1021.0Q1023.0 1215.5 1023.0 1217.5V1304.3z" fill="#f1676a" stroke="#ee5d61" stroke-width="1"/><path d="M1069.5 1304.3V1238.5Q1069.5 1236.5 1071.5 1236.5H1119.0Q1121.0 1236.5 1121.0 1238.5V1304.3z" fill="#f1676a" stroke="#ee5d61" stroke-width="1"/><line x1="95" x2="2125" y1="1304.7" y2="1304.7" stroke="#333" stroke-width="1.3"/><line x1="825" x2="842" y1="1356.5" y2="1356.5" stroke="#434348" stroke-width="2"/><circle cx="833.5" cy="1356.5" r="3" fill="#434348"/><text x="846" y="1361.5" font-size="13.4" fill="#333" textLength="214.5" lengthAdjust="spacing">Shopify Cart Abandonment (# ID) (14)</text><circle cx="1090" cy="1356.5" r="5.5" fill="#dcdcdc"/><text x="1103" y="1361.5" font-size="13.4" fill="#333" textLength="326" lengthAdjust="spacing">Shopify Cart Abandonment (Total Product Total Cost) (14)</text></svg>
<svg class="i" style="left:27.5px;top:1216.0px;width:12.0px;height:8.0px;color:#333;"><use href="#arrh"/></svg>
<svg class="i" style="left:2214.0px;top:1216.0px;width:12.0px;height:8.0px;color:#dcdcdc;"><use href="#arrh"/></svg>
<span class="t" style="left:3.0px;top:1399.3px;font-size:16.00px;letter-spacing:0.327px;color:#212121;">Abandoned Revenue Container</span>
<div class="panel" style="left:4.0px;top:1420.0px;width:559.0px;height:298.0px;">
</div>
<span class="t" style="left:16.4px;top:1430.8px;font-size:16.00px;letter-spacing:0.249px;color:#212121;">Abandoned Revenue Today (01/20/2026 12:00 ...</span>
<svg class="i" style="left:539.0px;top:1431.0px;width:16.0px;height:16.0px;color:#757575;"><use href="#window"/></svg>
<svg class="i" style="left:515.0px;top:1431.0px;width:16.0px;height:16.0px;color:#757575;"><use href="#searchplus"/></svg>
<svg class="i" style="left:491.0px;top:1431.0px;width:16.0px;height:16.0px;color:#757575;"><use href="#pencil"/></svg>
<svg class="i" style="left:466.7px;top:1431.0px;width:16.5px;height:16.0px;color:#757575;"><use href="#csv"/></svg>
<svg class="i" style="left:393.5px;top:1432.0px;width:14.0px;height:12.5px;color:#757575;"><use href="#filter"/></svg>
<svg class="i" style="left:415.0px;top:1431.3px;width:13.5px;height:13.5px;color:#757575;"><use href="#info"/></svg>
<span class="t" style="left:48.6px;top:1500.1px;font-size:40.00px;letter-spacing:0.442px;color:#f0676b;">$825.3</span>
<span class="t" style="left:48.6px;top:1553.6px;font-size:20.00px;letter-spacing:0.345px;color:#a9a9a9;">Avg Product Total Cost</span>
<span class="t" style="left:299.7px;top:1500.1px;font-size:40.00px;letter-spacing:0.246px;color:#f0676b;">$1,259.9</span>
<span class="t" style="left:299.7px;top:1553.6px;font-size:20.00px;letter-spacing:0.452px;color:#a9a9a9;">Max Product Total Cost</span>
<span class="t" style="left:48.6px;top:1598.1px;font-size:40.00px;letter-spacing:0.246px;color:#f0676b;">$2,475.8</span>
<span class="t" style="left:48.6px;top:1651.3px;font-size:20.00px;letter-spacing:0.508px;color:#a9a9a9;">Total Product Total Cost</span>
<div class="panel" style="left:573.0px;top:1420.0px;width:551.0px;height:298.0px;">
</div>
<span class="t" style="left:585.4px;top:1430.8px;font-size:16.00px;letter-spacing:0.168px;color:#212121;">Abandoned Revenue Last 7 Days (01/14/2026 ...</span>
<svg class="i" style="left:1100.0px;top:1431.0px;width:16.0px;height:16.0px;color:#757575;"><use href="#window"/></svg>
<svg class="i" style="left:1076.0px;top:1431.0px;width:16.0px;height:16.0px;color:#757575;"><use href="#searchplus"/></svg>
<svg class="i" style="left:1052.0px;top:1431.0px;width:16.0px;height:16.0px;color:#757575;"><use href="#pencil"/></svg>
<svg class="i" style="left:1027.7px;top:1431.0px;width:16.5px;height:16.0px;color:#757575;"><use href="#csv"/></svg>
<svg class="i" style="left:954.5px;top:1432.0px;width:14.0px;height:12.5px;color:#757575;"><use href="#filter"/></svg>
<svg class="i" style="left:976.0px;top:1431.3px;width:13.5px;height:13.5px;color:#757575;"><use href="#info"/></svg>
<span class="t" style="left:617.3px;top:1500.1px;font-size:40.00px;letter-spacing:0.442px;color:#f0676b;">$918.7</span>
<span class="t" style="left:617.3px;top:1553.6px;font-size:20.00px;letter-spacing:0.345px;color:#a9a9a9;">Avg Product Total Cost</span>
<span class="t" style="left:861.0px;top:1500.1px;font-size:40.00px;letter-spacing:0.246px;color:#f0676b;">$2,630.0</span>
<span class="t" style="left:861.0px;top:1553.6px;font-size:20.00px;letter-spacing:0.452px;color:#a9a9a9;">Max Product Total Cost</span>
<span class="t" style="left:617.3px;top:1598.1px;font-size:40.00px;letter-spacing:0.246px;color:#f0676b;">$8,268.5</span>
<span class="t" style="left:617.3px;top:1651.3px;font-size:20.00px;letter-spacing:0.508px;color:#a9a9a9;">Total Product Total Cost</span>
<div class="panel" style="left:1134.0px;top:1420.0px;width:551.0px;height:298.0px;">
</div>
<span class="t" style="left:1146.4px;top:1430.8px;font-size:16.00px;letter-spacing:0.178px;color:#212121;">Abandoned Revenue Last 30 Days (12/22/202...</span>
<svg class="i" style="left:1661.0px;top:1431.0px;width:16.0px;height:16.0px;color:#757575;"><use href="#window"/></svg>
<svg class="i" style="left:1637.0px;top:1431.0px;width:16.0px;height:16.0px;color:#757575;"><use href="#searchplus"/></svg>
<svg class="i" style="left:1613.0px;top:1431.0px;width:16.0px;height:16.0px;color:#757575;"><use href="#pencil"/></svg>
<svg class="i" style="left:1588.7px;top:1431.0px;width:16.5px;height:16.0px;color:#757575;"><use href="#csv"/></svg>
<svg class="i" style="left:1515.5px;top:1432.0px;width:14.0px;height:12.5px;color:#757575;"><use href="#filter"/></svg>
<svg class="i" style="left:1537.0px;top:1431.3px;width:13.5px;height:13.5px;color:#757575;"><use href="#info"/></svg>
<span class="t" style="left:1178.6px;top:1500.1px;font-size:40.00px;letter-spacing:0.246px;color:#f0676b;">$1,200.4</span>
<span class="t" style="left:1178.6px;top:1553.6px;font-size:20.00px;letter-spacing:0.345px;color:#a9a9a9;">Avg Product Total Cost</span>
<span class="t" style="left:1422.4px;top:1500.1px;font-size:40.00px;letter-spacing:0.246px;color:#f0676b;">$3,163.3</span>
<span class="t" style="left:1422.4px;top:1553.6px;font-size:20.00px;letter-spacing:0.452px;color:#a9a9a9;">Max Product Total Cost</span>
<span class="t" style="left:1178.6px;top:1598.1px;font-size:40.00px;letter-spacing:0.288px;color:#f0676b;">$31,209.3</span>
<span class="t" style="left:1178.6px;top:1651.3px;font-size:20.00px;letter-spacing:0.508px;color:#a9a9a9;">Total Product Total Cost</span>
<div class="panel" style="left:1695.0px;top:1420.0px;width:551.0px;height:298.0px;">
</div>
<span class="t" style="left:1707.4px;top:1430.8px;font-size:16.00px;letter-spacing:0.178px;color:#212121;">Abandoned Revenue Last 90 Days (10/23/202...</span>
<svg class="i" style="left:2222.0px;top:1431.0px;width:16.0px;height:16.0px;color:#757575;"><use href="#window"/></svg>
<svg class="i" style="left:2198.0px;top:1431.0px;width:16.0px;height:16.0px;color:#757575;"><use href="#searchplus"/></svg>
<svg class="i" style="left:2174.0px;top:1431.0px;width:16.0px;height:16.0px;color:#757575;"><use href="#pencil"/></svg>
<svg class="i" style="left:2149.7px;top:1431.0px;width:16.5px;height:16.0px;color:#757575;"><use href="#csv"/></svg>
<svg class="i" style="left:2076.5px;top:1432.0px;width:14.0px;height:12.5px;color:#757575;"><use href="#filter"/></svg>
<svg class="i" style="left:2098.0px;top:1431.3px;width:13.5px;height:13.5px;color:#757575;"><use href="#info"/></svg>
<span class="t" style="left:1739.6px;top:1500.1px;font-size:40.00px;letter-spacing:0.246px;color:#f0676b;">$1,200.4</span>
<span class="t" style="left:1739.6px;top:1553.6px;font-size:20.00px;letter-spacing:0.345px;color:#a9a9a9;">Avg Product Total Cost</span>
<span class="t" style="left:1982.7px;top:1500.1px;font-size:40.00px;letter-spacing:0.246px;color:#f0676b;">$3,163.3</span>
<span class="t" style="left:1982.7px;top:1553.6px;font-size:20.00px;letter-spacing:0.452px;color:#a9a9a9;">Max Product Total Cost</span>
<span class="t" style="left:1739.6px;top:1598.1px;font-size:40.00px;letter-spacing:0.288px;color:#f0676b;">$31,209.3</span>
<span class="t" style="left:1739.6px;top:1651.3px;font-size:20.00px;letter-spacing:0.508px;color:#a9a9a9;">Total Product Total Cost</span>
<span class="t" style="left:3.0px;top:1731.0px;font-size:16.00px;letter-spacing:0.425px;color:#212121;">Abandoned Segmentation Container</span>
<div class="panel" style="left:4.0px;top:1752.0px;width:447.0px;height:296.5px;">
</div>
<div class="b" style="left:18.0px;top:2046.0px;width:447.0px;height:7.5px;background:#fff;border-radius:0 0 4px 4px;"></div>
<span class="t" style="left:16.2px;top:1762.3px;font-size:16.00px;letter-spacing:0.219px;color:#212121;">Abandoned Users (New vs Returni...</span>
<svg class="i" style="left:427.0px;top:1763.0px;width:16.0px;height:16.0px;color:#757575;"><use href="#window"/></svg>
<svg class="i" style="left:403.0px;top:1763.0px;width:16.0px;height:16.0px;color:#757575;"><use href="#searchplus"/></svg>
<svg class="i" style="left:379.0px;top:1763.0px;width:16.0px;height:16.0px;color:#757575;"><use href="#pencil"/></svg>
<svg class="i" style="left:354.7px;top:1763.0px;width:16.5px;height:16.0px;color:#757575;"><use href="#csv"/></svg>
<svg class="i" style="left:303.0px;top:1764.0px;width:13.8px;height:13.8px;color:#757575;"><use href="#info"/></svg>
<div class="panel" style="left:461.0px;top:1752.0px;width:439.0px;height:296.5px;">
</div>
<div class="b" style="left:475.0px;top:2046.0px;width:439.0px;height:7.5px;background:#fff;border-radius:0 0 4px 4px;"></div>
<span class="t" style="left:473.2px;top:1762.3px;font-size:16.00px;letter-spacing:0.278px;color:#212121;">Abandoned Discounted (With vs ...</span>
<svg class="i" style="left:876.0px;top:1763.0px;width:16.0px;height:16.0px;color:#757575;"><use href="#window"/></svg>
<svg class="i" style="left:852.0px;top:1763.0px;width:16.0px;height:16.0px;color:#757575;"><use href="#searchplus"/></svg>
<svg class="i" style="left:828.0px;top:1763.0px;width:16.0px;height:16.0px;color:#757575;"><use href="#pencil"/></svg>
<svg class="i" style="left:803.7px;top:1763.0px;width:16.5px;height:16.0px;color:#757575;"><use href="#csv"/></svg>
<svg class="i" style="left:752.0px;top:1764.0px;width:13.8px;height:13.8px;color:#757575;"><use href="#info"/></svg>
<div class="panel" style="left:910.0px;top:1752.0px;width:438.4px;height:296.5px;">
</div>
<div class="b" style="left:924.0px;top:2046.0px;width:438.4px;height:7.5px;background:#fff;border-radius:0 0 4px 4px;"></div>
<span class="t" style="left:922.2px;top:1762.3px;font-size:16.00px;letter-spacing:0.161px;color:#212121;">Abandoned Devices (Desktop vs ...</span>
<svg class="i" style="left:1324.4px;top:1763.0px;width:16.0px;height:16.0px;color:#757575;"><use href="#window"/></svg>
<svg class="i" style="left:1300.4px;top:1763.0px;width:16.0px;height:16.0px;color:#757575;"><use href="#searchplus"/></svg>
<svg class="i" style="left:1276.4px;top:1763.0px;width:16.0px;height:16.0px;color:#757575;"><use href="#pencil"/></svg>
<svg class="i" style="left:1252.1px;top:1763.0px;width:16.5px;height:16.0px;color:#757575;"><use href="#csv"/></svg>
<svg class="i" style="left:1200.4px;top:1764.0px;width:13.8px;height:13.8px;color:#757575;"><use href="#info"/></svg>
<div class="panel" style="left:1358.0px;top:1752.0px;width:439.0px;height:296.5px;">
</div>
<div class="b" style="left:1372.0px;top:2046.0px;width:439.0px;height:7.5px;background:#fff;border-radius:0 0 4px 4px;"></div>
<span class="t" style="left:1370.2px;top:1762.3px;font-size:16.00px;letter-spacing:0.060px;color:#212121;">Abandoned Cart Size (Single vs M...</span>
<svg class="i" style="left:1773.0px;top:1763.0px;width:16.0px;height:16.0px;color:#757575;"><use href="#window"/></svg>
<svg class="i" style="left:1749.0px;top:1763.0px;width:16.0px;height:16.0px;color:#757575;"><use href="#searchplus"/></svg>
<svg class="i" style="left:1725.0px;top:1763.0px;width:16.0px;height:16.0px;color:#757575;"><use href="#pencil"/></svg>
<svg class="i" style="left:1700.7px;top:1763.0px;width:16.5px;height:16.0px;color:#757575;"><use href="#csv"/></svg>
<svg class="i" style="left:1649.0px;top:1764.0px;width:13.8px;height:13.8px;color:#757575;"><use href="#info"/></svg>
<div class="panel" style="left:1807.0px;top:1752.0px;width:439.0px;height:296.5px;">
</div>
<div class="b" style="left:1821.0px;top:2046.0px;width:439.0px;height:7.5px;background:#fff;border-radius:0 0 4px 4px;"></div>
<span class="t" style="left:1819.2px;top:1762.3px;font-size:16.00px;letter-spacing:0.213px;color:#212121;">Abandoned Campaigns (With vs W...</span>
<svg class="i" style="left:2222.0px;top:1763.0px;width:16.0px;height:16.0px;color:#757575;"><use href="#window"/></svg>
<svg class="i" style="left:2198.0px;top:1763.0px;width:16.0px;height:16.0px;color:#757575;"><use href="#searchplus"/></svg>
<svg class="i" style="left:2174.0px;top:1763.0px;width:16.0px;height:16.0px;color:#757575;"><use href="#pencil"/></svg>
<svg class="i" style="left:2149.7px;top:1763.0px;width:16.5px;height:16.0px;color:#757575;"><use href="#csv"/></svg>
<svg class="i" style="left:2098.0px;top:1764.0px;width:13.8px;height:13.8px;color:#757575;"><use href="#info"/></svg>
<span class="t" style="left:43.3px;top:1811.3px;font-size:50.50px;letter-spacing:-0.587px;color:#212121;-webkit-text-stroke:0.3px #fff;">7.7%</span>
<span class="t" style="left:43.3px;top:1880.1px;font-size:25.30px;letter-spacing:0.328px;color:#a9a9a9;-webkit-text-stroke:0.2px #fff;">% Returning User</span>
<span class="t" style="left:43.3px;top:1934.8px;font-size:50.50px;letter-spacing:-0.312px;color:#212121;-webkit-text-stroke:0.3px #fff;">92.3%</span>
<span class="t" style="left:43.3px;top:2002.6px;font-size:25.30px;letter-spacing:0.435px;color:#a9a9a9;-webkit-text-stroke:0.2px #fff;">% Not Returning User</span>
<span class="t" style="left:499.3px;top:1811.3px;font-size:50.50px;letter-spacing:-0.587px;color:#212121;-webkit-text-stroke:0.3px #fff;">0.0%</span>
<span class="t" style="left:499.3px;top:1880.1px;font-size:25.30px;letter-spacing:0.435px;color:#a9a9a9;-webkit-text-stroke:0.2px #fff;">% Discounted</span>
<span class="t" style="left:499.3px;top:1934.8px;font-size:50.50px;letter-spacing:-0.128px;color:#212121;-webkit-text-stroke:0.3px #fff;">100.0%</span>
<span class="t" style="left:499.3px;top:2002.6px;font-size:25.30px;letter-spacing:0.542px;color:#a9a9a9;-webkit-text-stroke:0.2px #fff;">% Not Discounted</span>
<span class="t" style="left:949.5px;top:1853.7px;font-size:73.00px;letter-spacing:1.139px;color:#f0676b;-webkit-text-stroke:1.6px #fff;">13</span>
<span class="t" style="left:949.5px;top:1951.9px;font-size:36.50px;letter-spacing:1.075px;color:#a9a9a9;-webkit-text-stroke:0.6px #fff;"># Desktop</span>
<span class="t" style="left:1155.6px;top:1853.7px;font-size:73.00px;letter-spacing:1.139px;color:#a0fb8e;-webkit-text-stroke:1.6px #fff;">0</span>
<span class="t" style="left:1155.6px;top:1951.9px;font-size:36.50px;letter-spacing:1.425px;color:#a9a9a9;-webkit-text-stroke:0.6px #fff;"># Mobile</span>
<span class="t" style="left:1399.5px;top:1849.9px;font-size:77.50px;letter-spacing:1.209px;color:#f0676b;-webkit-text-stroke:1.7px #fff;">10</span>
<span class="t" style="left:1399.5px;top:1954.3px;font-size:38.00px;letter-spacing:0.329px;color:#a9a9a9;-webkit-text-stroke:0.6px #fff;"># Single</span>
<span class="t" style="left:1572.0px;top:1849.9px;font-size:77.50px;letter-spacing:1.209px;color:#f0676b;-webkit-text-stroke:1.7px #fff;">3</span>
<span class="t" style="left:1572.0px;top:1954.0px;font-size:38.40px;letter-spacing:1.644px;color:#a9a9a9;-webkit-text-stroke:0.6px #fff;"># Multiple</span>
<span class="t" style="left:1846.5px;top:1843.9px;font-size:84.00px;letter-spacing:1.311px;color:#a0fb8e;-webkit-text-stroke:1.8px #fff;">0</span>
<span class="t" style="left:1846.0px;top:1958.4px;font-size:42.40px;letter-spacing:1.535px;color:#a9a9a9;-webkit-text-stroke:.6px #fff;"># With</span>
<span class="t" style="left:2011.0px;top:1843.9px;font-size:84.00px;letter-spacing:1.311px;color:#f0676b;-webkit-text-stroke:1.8px #fff;">13</span>
<span class="t" style="left:2008.0px;top:1958.2px;font-size:42.60px;letter-spacing:1.883px;color:#a9a9a9;-webkit-text-stroke:.6px #fff;"># Without</span>
<span class="t" style="left:16.4px;top:2067.3px;font-size:16.00px;letter-spacing:0.422px;color:#212121;">Abandoned Product Segmentation Container</span>
<div class="b" style="left:2255.0px;top:2048.5px;width:6.0px;height:968.5px;background:#fff;"></div>
<div class="panel" style="left:18.0px;top:2088.0px;width:1120.0px;height:298.0px;">
</div>
<span class="t" style="left:30.0px;top:2098.5px;font-size:16.00px;letter-spacing:0.178px;color:#212121;">Top Abandoned Products (01/13/2026 06:50 AM CET - 01/21/2026 06:50 AM CET)</span>
<svg class="i" style="left:639.1px;top:2099.5px;width:13.8px;height:13.8px;color:#757575;"><use href="#info"/></svg>
<svg class="i" style="left:1114.0px;top:2099.0px;width:16.0px;height:16.0px;color:#757575;"><use href="#window"/></svg>
<svg class="i" style="left:1090.0px;top:2099.0px;width:16.0px;height:16.0px;color:#757575;"><use href="#searchplus"/></svg>
<svg class="i" style="left:1066.0px;top:2099.0px;width:16.0px;height:16.0px;color:#757575;"><use href="#pencil"/></svg>
<svg class="i" style="left:1041.7px;top:2099.0px;width:16.5px;height:16.0px;color:#757575;"><use href="#csv"/></svg>
<span class="t" style="left:23.2px;top:2140.0px;font-size:12.00px;letter-spacing:-0.450px;color:#111;font-weight:bold;">PRODUCT NAME</span>
<svg class="i" style="left:119.2px;top:2137.3px;width:8px;height:13px"><use href="#sortn"/></svg>
<svg class="i" style="left:130.8px;top:2137.7px;width:14.5px;height:14.5px;color:#c6c6c6;"><use href="#pencil"/></svg>
<svg class="i" style="left:398.5px;top:2155.0px;width:9.5px;height:9.5px;color:#333;"><use href="#rsz"/></svg>
<span class="t" style="left:566.5px;top:2140.0px;font-size:12.00px;letter-spacing:0.248px;color:#111;font-weight:bold;"># ID</span>
<svg class="i" style="left:592.9px;top:2137.3px;width:8px;height:13px"><use href="#sortn"/></svg>
<svg class="i" style="left:594.5px;top:2155.0px;width:9.5px;height:9.5px;color:#333;"><use href="#rsz"/></svg>
<span class="t" style="left:613.5px;top:2140.0px;font-size:12.00px;letter-spacing:-0.479px;color:#111;font-weight:bold;">AVG PRODUCT TOTAL COST ($)</span>
<svg class="i" style="left:788.9px;top:2137.3px;width:8px;height:13px"><use href="#sortn"/></svg>
<svg class="i" style="left:791.5px;top:2155.0px;width:9.5px;height:9.5px;color:#333;"><use href="#rsz"/></svg>
<span class="t" style="left:806.5px;top:2130.8px;font-size:12.00px;letter-spacing:-0.503px;color:#111;font-weight:bold;">TOTAL PRODUCT TOTAL</span>
<span class="t" style="left:806.5px;top:2149.6px;font-size:12.00px;letter-spacing:-0.542px;color:#111;font-weight:bold;">COST ($)</span>
<svg class="i" style="left:963.9px;top:2137.3px;width:8px;height:13px"><use href="#sortdn"/></svg>
<svg class="i" style="left:975.5px;top:2137.7px;width:14.5px;height:14.5px;color:#c6c6c6;"><use href="#pencil"/></svg>
<svg class="i" style="left:984.0px;top:2161.5px;width:9.5px;height:9.5px;color:#333;"><use href="#rsz"/></svg>
<div class="b" style="left:18.0px;top:2172.8px;width:1120.0px;height:1.0px;background:#e0e0e0;"></div>
<div class="b" style="left:409.0px;top:2173.8px;width:586.5px;height:25.2px;background:#f0676b;"></div>
<div class="b" style="left:18.0px;top:2198.9px;width:391.0px;height:1.0px;background:#e6e6e6;"></div>
<span class="t" style="left:21.0px;top:2181.2px;font-size:12.00px;letter-spacing:0.120px;color:#212121;">Multiple Products</span>
<span class="t" style="left:593.4px;top:2181.2px;font-size:12.00px;letter-spacing:-0.121px;color:#212121;">3</span>
<span class="t" style="left:757.4px;top:2181.2px;font-size:12.00px;letter-spacing:-0.202px;color:#212121;">1,049.2</span>
<span class="t" style="left:941.9px;top:2181.2px;font-size:12.00px;letter-spacing:-0.202px;color:#212121;">3,147.7</span>
<div class="b" style="left:409.0px;top:2199.9px;width:586.5px;height:25.2px;background:#f0676b;"></div>
<div class="b" style="left:18.0px;top:2224.9px;width:391.0px;height:1.0px;background:#e6e6e6;"></div>
<span class="t" style="left:21.0px;top:2207.3px;font-size:12.00px;letter-spacing:-0.028px;color:#212121;">The 3p Fulfilled Snowboard</span>
<span class="t" style="left:593.4px;top:2207.3px;font-size:12.00px;letter-spacing:-0.121px;color:#212121;">1</span>
<span class="t" style="left:757.4px;top:2207.3px;font-size:12.00px;letter-spacing:-0.202px;color:#212121;">2,630.0</span>
<span class="t" style="left:941.9px;top:2207.3px;font-size:12.00px;letter-spacing:-0.202px;color:#212121;">2,630.0</span>
<div class="b" style="left:409.0px;top:2225.9px;width:586.5px;height:25.2px;background:#f0676b;"></div>
<div class="b" style="left:18.0px;top:2251.0px;width:391.0px;height:1.0px;background:#e6e6e6;"></div>
<span class="t" style="left:21.0px;top:2233.3px;font-size:12.00px;letter-spacing:0.022px;color:#212121;">The Multi-managed Snowboard</span>
<span class="t" style="left:593.4px;top:2233.3px;font-size:12.00px;letter-spacing:-0.121px;color:#212121;">3</span>
<span class="t" style="left:766.7px;top:2233.3px;font-size:12.00px;letter-spacing:-0.154px;color:#212121;">839.9</span>
<span class="t" style="left:941.9px;top:2233.3px;font-size:12.00px;letter-spacing:-0.202px;color:#212121;">2,519.8</span>
<div class="b" style="left:409.0px;top:2252.0px;width:586.5px;height:25.2px;background:#f0676b;"></div>
<div class="b" style="left:18.0px;top:2277.0px;width:391.0px;height:1.0px;background:#e6e6e6;"></div>
<span class="t" style="left:21.0px;top:2259.4px;font-size:12.00px;letter-spacing:-0.273px;color:#212121;">Selling Plans Ski Wax</span>
<span class="t" style="left:593.4px;top:2259.4px;font-size:12.00px;letter-spacing:-0.121px;color:#212121;">2</span>
<span class="t" style="left:757.4px;top:2259.4px;font-size:12.00px;letter-spacing:-0.202px;color:#212121;">1,161.3</span>
<span class="t" style="left:941.9px;top:2259.4px;font-size:12.00px;letter-spacing:-0.202px;color:#212121;">2,322.7</span>
<div class="b" style="left:409.0px;top:2278.0px;width:586.5px;height:25.2px;background:#f0676b;"></div>
<div class="b" style="left:18.0px;top:2303.1px;width:391.0px;height:1.0px;background:#e6e6e6;"></div>
<span class="t" style="left:21.0px;top:2285.4px;font-size:12.00px;letter-spacing:-0.082px;color:#212121;">The Compare at Price Snowboard</span>
<span class="t" style="left:593.4px;top:2285.4px;font-size:12.00px;letter-spacing:-0.121px;color:#212121;">3</span>
<span class="t" style="left:766.7px;top:2285.4px;font-size:12.00px;letter-spacing:-0.154px;color:#212121;">586.0</span>
<span class="t" style="left:941.9px;top:2285.4px;font-size:12.00px;letter-spacing:-0.202px;color:#212121;">1,757.9</span>
<div class="b" style="left:409.0px;top:2304.1px;width:586.5px;height:25.2px;background:#f0676b;"></div>
<div class="b" style="left:18.0px;top:2329.1px;width:391.0px;height:1.0px;background:#e6e6e6;"></div>
<span class="t" style="left:21.0px;top:2311.5px;font-size:12.00px;letter-spacing:-0.029px;color:#212121;">The Collection Snowboard: Liquid</span>
<span class="t" style="left:593.4px;top:2311.5px;font-size:12.00px;letter-spacing:-0.121px;color:#212121;">1</span>
<span class="t" style="left:766.7px;top:2311.5px;font-size:12.00px;letter-spacing:-0.154px;color:#212121;">750.0</span>
<span class="t" style="left:951.2px;top:2311.5px;font-size:12.00px;letter-spacing:-0.154px;color:#212121;">750.0</span>
<div class="panel" style="left:1148.0px;top:2088.0px;width:1113.0px;height:298.0px;border-radius:4px 0 0 4px;">
</div>
<span class="t" style="left:1160.0px;top:2098.5px;font-size:16.00px;letter-spacing:0.153px;color:#212121;">Top Abandoned Types (01/13/2026 06:50 AM CET - 01/21/2026 06:50 AM CET)</span>
<svg class="i" style="left:1746.1px;top:2099.5px;width:13.8px;height:13.8px;color:#757575;"><use href="#info"/></svg>
<svg class="i" style="left:2236.0px;top:2099.0px;width:16.0px;height:16.0px;color:#757575;"><use href="#window"/></svg>
<svg class="i" style="left:2212.0px;top:2099.0px;width:16.0px;height:16.0px;color:#757575;"><use href="#searchplus"/></svg>
<svg class="i" style="left:2188.0px;top:2099.0px;width:16.0px;height:16.0px;color:#757575;"><use href="#pencil"/></svg>
<svg class="i" style="left:2163.7px;top:2099.0px;width:16.5px;height:16.0px;color:#757575;"><use href="#csv"/></svg>
<span class="t" style="left:1153.2px;top:2140.0px;font-size:12.00px;letter-spacing:-0.709px;color:#111;font-weight:bold;">PRODUCT TYPE</span>
<svg class="i" style="left:1242.1px;top:2137.3px;width:8px;height:13px"><use href="#sortn"/></svg>
<svg class="i" style="left:1253.7px;top:2137.7px;width:14.5px;height:14.5px;color:#c6c6c6;"><use href="#pencil"/></svg>
<svg class="i" style="left:1525.5px;top:2155.0px;width:9.5px;height:9.5px;color:#333;"><use href="#rsz"/></svg>
<span class="t" style="left:1691.0px;top:2140.0px;font-size:12.00px;letter-spacing:0.248px;color:#111;font-weight:bold;"># ID</span>
<svg class="i" style="left:1717.4px;top:2137.3px;width:8px;height:13px"><use href="#sortn"/></svg>
<svg class="i" style="left:1719.0px;top:2155.0px;width:9.5px;height:9.5px;color:#333;"><use href="#rsz"/></svg>
<span class="t" style="left:1736.5px;top:2140.0px;font-size:12.00px;letter-spacing:-0.479px;color:#111;font-weight:bold;">AVG PRODUCT TOTAL COST ($)</span>
<svg class="i" style="left:1911.9px;top:2137.3px;width:8px;height:13px"><use href="#sortn"/></svg>
<svg class="i" style="left:1914.5px;top:2155.0px;width:9.5px;height:9.5px;color:#333;"><use href="#rsz"/></svg>
<span class="t" style="left:1929.5px;top:2130.8px;font-size:12.00px;letter-spacing:-0.503px;color:#111;font-weight:bold;">TOTAL PRODUCT TOTAL</span>
<span class="t" style="left:1929.5px;top:2149.6px;font-size:12.00px;letter-spacing:-0.542px;color:#111;font-weight:bold;">COST ($)</span>
<svg class="i" style="left:2086.9px;top:2137.3px;width:8px;height:13px"><use href="#sortdn"/></svg>
<svg class="i" style="left:2098.5px;top:2137.7px;width:14.5px;height:14.5px;color:#c6c6c6;"><use href="#pencil"/></svg>
<svg class="i" style="left:2106.5px;top:2161.5px;width:9.5px;height:9.5px;color:#333;"><use href="#rsz"/></svg>
<div class="b" style="left:1148.0px;top:2172.8px;width:1113.0px;height:1.0px;background:#e0e0e0;"></div>
<div class="b" style="left:1536.0px;top:2173.8px;width:582.0px;height:25.2px;background:#f0676b;"></div>
<div class="b" style="left:1148.0px;top:2198.9px;width:388.0px;height:1.0px;background:#e6e6e6;"></div>
<span class="t" style="left:1151.0px;top:2182.9px;font-size:9.40px;letter-spacing:0.447px;color:#c4c4c4;font-style:italic;">empty</span>
<span class="t" style="left:1711.4px;top:2181.2px;font-size:12.00px;letter-spacing:-0.121px;color:#212121;">13</span>
<span class="t" style="left:1880.4px;top:2181.2px;font-size:12.00px;letter-spacing:-0.202px;color:#212121;">1,009.8</span>
<span class="t" style="left:2057.8px;top:2181.2px;font-size:12.00px;letter-spacing:-0.192px;color:#212121;">13,127.9</span>
<span class="t" style="left:16.4px;top:2399.3px;font-size:16.00px;letter-spacing:0.126px;color:#212121;">Page Speed Container</span>
<div class="panel" style="left:18.0px;top:2420.0px;width:1120.0px;height:298.0px;">
</div>
<span class="t" style="left:30.0px;top:2430.7px;font-size:16.00px;letter-spacing:0.025px;color:#212121;">Page Speed This User (01/19/2026 06:50 AM CET - 01/21/2026 06:50 AM CET)</span>
<svg class="i" style="left:610.7px;top:2432.0px;width:14.0px;height:12.5px;color:#757575;"><use href="#filter"/></svg>
<svg class="i" style="left:633.7px;top:2431.3px;width:13.5px;height:13.5px;color:#757575;"><use href="#info"/></svg>
<svg class="i" style="left:1114.0px;top:2431.0px;width:16.0px;height:16.0px;color:#757575;"><use href="#window"/></svg>
<svg class="i" style="left:1090.0px;top:2431.0px;width:16.0px;height:16.0px;color:#757575;"><use href="#searchplus"/></svg>
<svg class="i" style="left:1066.0px;top:2431.0px;width:16.0px;height:16.0px;color:#757575;"><use href="#pencil"/></svg>
<svg class="i" style="left:1041.7px;top:2431.0px;width:16.5px;height:16.0px;color:#757575;"><use href="#csv"/></svg>
<span class="t" style="left:179.7px;top:2499.5px;font-size:99.00px;letter-spacing:1.945px;color:#a0fb8e;-webkit-text-stroke:2px #fff;">2.2s</span>
<span class="t" style="left:516.2px;top:2499.5px;font-size:99.00px;letter-spacing:1.688px;color:#f9d54c;-webkit-text-stroke:2px #fff;">8.1s</span>
<span class="t" style="left:183.4px;top:2633.2px;font-size:50.00px;letter-spacing:1.466px;color:#a9a9a9;-webkit-text-stroke:.75px #fff;">Avg Duration</span>
<span class="t" style="left:515.9px;top:2633.2px;font-size:50.00px;letter-spacing:1.269px;color:#a9a9a9;-webkit-text-stroke:.75px #fff;">Pctl (95th) Duration</span>
<div class="panel" style="left:1148.0px;top:2420.0px;width:1113.0px;height:298.0px;border-radius:4px 0 0 4px;">
</div>
<span class="t" style="left:1160.0px;top:2430.7px;font-size:16.00px;letter-spacing:0.032px;color:#212121;">Page Speed All Users (01/19/2026 06:50 AM CET - 01/21/2026 06:50 AM CET)</span>
<svg class="i" style="left:1736.2px;top:2432.0px;width:14.0px;height:12.5px;color:#757575;"><use href="#filter"/></svg>
<svg class="i" style="left:1759.2px;top:2431.3px;width:13.5px;height:13.5px;color:#757575;"><use href="#info"/></svg>
<svg class="i" style="left:2236.0px;top:2431.0px;width:16.0px;height:16.0px;color:#757575;"><use href="#window"/></svg>
<svg class="i" style="left:2212.0px;top:2431.0px;width:16.0px;height:16.0px;color:#757575;"><use href="#searchplus"/></svg>
<svg class="i" style="left:2188.0px;top:2431.0px;width:16.0px;height:16.0px;color:#757575;"><use href="#pencil"/></svg>
<svg class="i" style="left:2163.7px;top:2431.0px;width:16.5px;height:16.0px;color:#757575;"><use href="#csv"/></svg>
<span class="t" style="left:1310.8px;top:2499.5px;font-size:99.00px;letter-spacing:0.194px;color:#a0fb8e;-webkit-text-stroke:2px #fff;">1.6s</span>
<span class="t" style="left:1644.4px;top:2499.5px;font-size:99.00px;letter-spacing:0.568px;color:#f9d54c;-webkit-text-stroke:2px #fff;">6.3s</span>
<span class="t" style="left:1308.9px;top:2633.2px;font-size:50.00px;letter-spacing:1.491px;color:#a9a9a9;-webkit-text-stroke:.75px #fff;">Avg Duration</span>
<span class="t" style="left:1643.3px;top:2633.2px;font-size:50.00px;letter-spacing:1.269px;color:#a9a9a9;-webkit-text-stroke:.75px #fff;">Pctl (95th) Duration</span>
<div class="panel" style="left:18.0px;top:2728.0px;width:2243.0px;height:289.0px;border-radius:4px 0 0 4px;">
</div>
<span class="t" style="left:30.4px;top:2738.7px;font-size:16.00px;letter-spacing:0.065px;color:#212121;">Checkout Steps (01/19/2026 06:50 AM CET - 01/21/2026 06:50 AM CET)</span>
<svg class="i" style="left:2236.0px;top:2739.0px;width:16.0px;height:16.0px;color:#757575;"><use href="#window"/></svg>
<svg class="i" style="left:2212.0px;top:2739.0px;width:16.0px;height:16.0px;color:#757575;"><use href="#pencil"/></svg>
<svg class="i" style="left:2187.7px;top:2739.0px;width:16.5px;height:16.0px;color:#757575;"><use href="#csv"/></svg>
<span class="t" style="left:23.3px;top:2771.8px;font-size:12.00px;letter-spacing:-0.768px;color:#111;font-weight:bold;">NOTES</span>
<span class="t" style="left:272.5px;top:2771.8px;font-size:12.00px;letter-spacing:-0.250px;color:#111;font-weight:bold;">ID</span>
<svg class="i" style="left:287.6px;top:2769.3px;width:8px;height:13px"><use href="#sortn"/></svg>
<span class="t" style="left:522.0px;top:2771.8px;font-size:12.00px;letter-spacing:-0.466px;color:#111;font-weight:bold;">TIME</span>
<svg class="i" style="left:552.4px;top:2769.3px;width:8px;height:13px"><use href="#sortup"/></svg>
<span class="t" style="left:1020.5px;top:2771.8px;font-size:12.00px;letter-spacing:-0.583px;color:#111;font-weight:bold;">NAME</span>
<svg class="i" style="left:1057.1px;top:2769.3px;width:8px;height:13px"><use href="#sortn"/></svg>
<span class="t" style="left:2017.0px;top:2771.8px;font-size:12.00px;letter-spacing:-0.635px;color:#111;font-weight:bold;">DETAILS</span>
<svg class="i" style="left:2066.6px;top:2769.3px;width:8px;height:13px"><use href="#sortn"/></svg>
<svg class="i" style="left:255.5px;top:2785.5px;width:9.5px;height:9.5px;color:#333;"><use href="#rsz"/></svg>
<svg class="i" style="left:505.0px;top:2785.5px;width:9.5px;height:9.5px;color:#333;"><use href="#rsz"/></svg>
<svg class="i" style="left:1003.5px;top:2785.5px;width:9.5px;height:9.5px;color:#333;"><use href="#rsz"/></svg>
<svg class="i" style="left:2000.0px;top:2785.5px;width:9.5px;height:9.5px;color:#333;"><use href="#rsz"/></svg>
<svg class="i" style="left:2249.0px;top:2785.5px;width:9.5px;height:9.5px;color:#333;"><use href="#rsz"/></svg>
<div class="b" style="left:18.0px;top:2797.0px;width:2237.0px;height:25.9px;background:#a0fb8e;"></div>
<svg class="i" style="left:132.5px;top:2802.4px;width:18.0px;height:16.0px;color:#b2841b;"><use href="#cdots"/></svg>
<svg class="i" style="left:382.6px;top:2802.1px;width:16.2px;height:16.2px;color:#4aa0fa;"><use href="#playc"/></svg>
<span class="t" style="left:519.4px;top:2804.0px;font-size:12.00px;letter-spacing:-0.201px;color:#212121;">01/20/2026 06:49:01.885 AM CET</span>
<span class="t" style="left:1017.2px;top:2804.0px;font-size:12.00px;letter-spacing:-0.043px;color:#212121;">Checkout Started</span>
<svg class="i" style="left:2121.0px;top:2800.6px;width:15.6px;height:15.6px;color:#161c12;"><use href="#info"/></svg>
<div class="b" style="left:18.0px;top:2824.0px;width:2237.0px;height:25.9px;background:#a0fb8e;"></div>
<svg class="i" style="left:132.5px;top:2829.4px;width:18.0px;height:16.0px;color:#b2841b;"><use href="#cdots"/></svg>
<svg class="i" style="left:382.6px;top:2829.1px;width:16.2px;height:16.2px;color:#4aa0fa;"><use href="#playc"/></svg>
<span class="t" style="left:519.4px;top:2831.0px;font-size:12.00px;letter-spacing:-0.201px;color:#212121;">01/20/2026 06:49:04.538 AM CET</span>
<span class="t" style="left:1017.2px;top:2831.0px;font-size:12.00px;letter-spacing:0.067px;color:#212121;">Contact Info Submitted</span>
<svg class="i" style="left:2121.0px;top:2827.6px;width:15.6px;height:15.6px;color:#161c12;"><use href="#info"/></svg>
<div class="b" style="left:18.0px;top:2851.0px;width:2237.0px;height:25.9px;background:#a0fb8e;"></div>
<svg class="i" style="left:132.5px;top:2856.4px;width:18.0px;height:16.0px;color:#b2841b;"><use href="#cdots"/></svg>
<svg class="i" style="left:382.6px;top:2856.1px;width:16.2px;height:16.2px;color:#4aa0fa;"><use href="#playc"/></svg>
<span class="t" style="left:519.4px;top:2858.0px;font-size:12.00px;letter-spacing:-0.201px;color:#212121;">01/20/2026 06:49:16.888 AM CET</span>
<span class="t" style="left:1017.2px;top:2858.0px;font-size:12.00px;letter-spacing:0.047px;color:#212121;">Address Info Submitted</span>
<svg class="i" style="left:2121.0px;top:2854.6px;width:15.6px;height:15.6px;color:#161c12;"><use href="#info"/></svg>
<div class="b" style="left:18.0px;top:2878.0px;width:2237.0px;height:25.9px;background:#a0fb8e;"></div>
<svg class="i" style="left:132.5px;top:2883.4px;width:18.0px;height:16.0px;color:#b2841b;"><use href="#cdots"/></svg>
<svg class="i" style="left:382.6px;top:2883.1px;width:16.2px;height:16.2px;color:#4aa0fa;"><use href="#playc"/></svg>
<span class="t" style="left:519.4px;top:2885.0px;font-size:12.00px;letter-spacing:-0.201px;color:#212121;">01/20/2026 06:49:18.407 AM CET</span>
<span class="t" style="left:1017.2px;top:2885.0px;font-size:12.00px;letter-spacing:0.065px;color:#212121;">Shipping Info Submitted</span>
<svg class="i" style="left:2121.0px;top:2881.6px;width:15.6px;height:15.6px;color:#161c12;"><use href="#info"/></svg>
<div class="b" style="left:18.0px;top:2905.0px;width:2237.0px;height:25.9px;background:#a0fb8e;"></div>
<svg class="i" style="left:132.5px;top:2910.4px;width:18.0px;height:16.0px;color:#b2841b;"><use href="#cdots"/></svg>
<svg class="i" style="left:382.6px;top:2910.1px;width:16.2px;height:16.2px;color:#4aa0fa;"><use href="#playc"/></svg>
<span class="t" style="left:519.4px;top:2912.0px;font-size:12.00px;letter-spacing:-0.201px;color:#212121;">01/20/2026 06:49:20.507 AM CET</span>
<span class="t" style="left:1017.2px;top:2912.0px;font-size:12.00px;letter-spacing:0.072px;color:#212121;">Payment Info Submitted</span>
<svg class="i" style="left:2121.0px;top:2908.6px;width:15.6px;height:15.6px;color:#161c12;"><use href="#info"/></svg>
<div class="b" style="left:18.0px;top:2932.0px;width:2237.0px;height:25.9px;background:#a0fb8e;"></div>
<svg class="i" style="left:132.5px;top:2937.4px;width:18.0px;height:16.0px;color:#b2841b;"><use href="#cdots"/></svg>
<svg class="i" style="left:382.6px;top:2937.1px;width:16.2px;height:16.2px;color:#4aa0fa;"><use href="#playc"/></svg>
<span class="t" style="left:519.4px;top:2939.0px;font-size:12.00px;letter-spacing:-0.201px;color:#212121;">01/20/2026 06:50:10.304 AM CET</span>
<span class="t" style="left:1017.2px;top:2939.0px;font-size:12.00px;letter-spacing:0.072px;color:#212121;">Payment Info Submitted</span>
<svg class="i" style="left:2121.0px;top:2935.6px;width:15.6px;height:15.6px;color:#161c12;"><use href="#info"/></svg>
<div class="panel" style="left:6.0px;top:3025.7px;width:2242.0px;height:298.3px;">
</div>
<span class="t" style="left:18.2px;top:3036.5px;font-size:16.00px;letter-spacing:0.120px;color:#212121;">User-Facing Errors</span>
<svg class="i" style="left:2224.0px;top:3037.0px;width:16.0px;height:16.0px;color:#757575;"><use href="#window"/></svg>
<svg class="i" style="left:2200.0px;top:3037.0px;width:16.0px;height:16.0px;color:#757575;"><use href="#pencil"/></svg>
<svg class="i" style="left:2175.7px;top:3037.0px;width:16.5px;height:16.0px;color:#757575;"><use href="#csv"/></svg>
<span class="t" style="left:11.3px;top:3069.8px;font-size:12.00px;letter-spacing:-0.768px;color:#111;font-weight:bold;">NOTES</span>
<svg class="i" style="left:88.4px;top:3083.0px;width:9.5px;height:9.5px;color:#333;"><use href="#rsz"/></svg>
<span class="t" style="left:104.7px;top:3069.8px;font-size:12.00px;letter-spacing:-0.250px;color:#111;font-weight:bold;">ID</span>
<svg class="i" style="left:119.8px;top:3067.3px;width:8px;height:13px"><use href="#sortn"/></svg>
<svg class="i" style="left:181.8px;top:3083.0px;width:9.5px;height:9.5px;color:#333;"><use href="#rsz"/></svg>
<span class="t" style="left:198.1px;top:3069.8px;font-size:12.00px;letter-spacing:-0.466px;color:#111;font-weight:bold;">TIME</span>
<svg class="i" style="left:228.5px;top:3067.3px;width:8px;height:13px"><use href="#sortup"/></svg>
<svg class="i" style="left:368.6px;top:3083.0px;width:9.5px;height:9.5px;color:#333;"><use href="#rsz"/></svg>
<span class="t" style="left:384.9px;top:3069.8px;font-size:12.00px;letter-spacing:-0.583px;color:#111;font-weight:bold;">NAME</span>
<svg class="i" style="left:421.5px;top:3067.3px;width:8px;height:13px"><use href="#sortn"/></svg>
<svg class="i" style="left:742.2px;top:3083.0px;width:9.5px;height:9.5px;color:#333;"><use href="#rsz"/></svg>
<span class="t" style="left:758.5px;top:3069.8px;font-size:12.00px;letter-spacing:-0.957px;color:#111;font-weight:bold;">BUSINESS OBJECT</span>
<svg class="i" style="left:861.1px;top:3067.3px;width:8px;height:13px"><use href="#sortn"/></svg>
<svg class="i" style="left:1115.8px;top:3083.0px;width:9.5px;height:9.5px;color:#333;"><use href="#rsz"/></svg>
<span class="t" style="left:1132.1px;top:3069.8px;font-size:12.00px;letter-spacing:-0.446px;color:#111;font-weight:bold;">DISPLAYED NAME</span>
<svg class="i" style="left:1235.7px;top:3067.3px;width:8px;height:13px"><use href="#sortn"/></svg>
<svg class="i" style="left:1489.4px;top:3083.0px;width:9.5px;height:9.5px;color:#333;"><use href="#rsz"/></svg>
<span class="t" style="left:1505.7px;top:3069.8px;font-size:12.00px;letter-spacing:-0.779px;color:#111;font-weight:bold;">PAGE</span>
<svg class="i" style="left:1539.3px;top:3067.3px;width:8px;height:13px"><use href="#sortn"/></svg>
<svg class="i" style="left:1863.0px;top:3083.0px;width:9.5px;height:9.5px;color:#333;"><use href="#rsz"/></svg>
<span class="t" style="left:1879.3px;top:3069.8px;font-size:12.00px;letter-spacing:-0.635px;color:#111;font-weight:bold;">DETAILS</span>
<svg class="i" style="left:1928.9px;top:3067.3px;width:8px;height:13px"><use href="#sortn"/></svg>
<svg class="i" style="left:2236.6px;top:3083.0px;width:9.5px;height:9.5px;color:#333;"><use href="#rsz"/></svg>
<div class="b" style="left:6.0px;top:3095.0px;width:2242.0px;height:26.0px;background:#f0676b;"></div>
<svg class="i" style="left:42.3px;top:3100.4px;width:18.0px;height:16.0px;color:#b8891f;"><use href="#cdots"/></svg>
<svg class="i" style="left:136.3px;top:3100.1px;width:16.2px;height:16.2px;color:#6aa2f2;"><use href="#playc"/></svg>
<span class="t" style="left:195.8px;top:3102.0px;font-size:12.00px;letter-spacing:-0.201px;color:#212121;">01/20/2026 06:49:20.423 AM CET</span>
<span class="t" style="left:382.6px;top:3102.0px;font-size:12.00px;letter-spacing:-0.103px;color:#212121;">Checkout Warning Message</span>
<span class="t" style="left:756.2px;top:3102.0px;font-size:12.00px;letter-spacing:-0.533px;color:#212121;">INPUT_INVALID</span>
<span class="t" style="left:1130.1px;top:3102.0px;font-size:12.00px;letter-spacing:0.045px;color:#212121;">Enter a card number</span>
<span class="t" style="left:1503.7px;top:3102.0px;font-size:12.00px;letter-spacing:-0.049px;color:#212121;">Checkout - gapm-test1</span>
<svg class="i" style="left:1630.7px;top:3098.9px;width:15.2px;height:15.2px;color:#141414;"><use href="#info"/></svg>
<span class="t" style="left:1877.3px;top:3102.0px;font-size:12.00px;letter-spacing:-0.015px;color:#212121;">&lt;redacted&gt;</span>
<div class="b" style="left:6.0px;top:3122.0px;width:2242.0px;height:26.0px;background:#f0676b;"></div>
<svg class="i" style="left:42.3px;top:3127.4px;width:18.0px;height:16.0px;color:#b8891f;"><use href="#cdots"/></svg>
<svg class="i" style="left:136.3px;top:3127.1px;width:16.2px;height:16.2px;color:#6aa2f2;"><use href="#playc"/></svg>
<span class="t" style="left:195.8px;top:3129.0px;font-size:12.00px;letter-spacing:-0.201px;color:#212121;">01/20/2026 06:49:20.426 AM CET</span>
<span class="t" style="left:382.6px;top:3129.0px;font-size:12.00px;letter-spacing:-0.103px;color:#212121;">Checkout Warning Message</span>
<span class="t" style="left:756.2px;top:3129.0px;font-size:12.00px;letter-spacing:-0.533px;color:#212121;">INPUT_INVALID</span>
<span class="t" style="left:1130.1px;top:3129.0px;font-size:12.00px;letter-spacing:0.041px;color:#212121;">Enter a valid expiration date</span>
<span class="t" style="left:1503.7px;top:3129.0px;font-size:12.00px;letter-spacing:-0.049px;color:#212121;">Checkout - gapm-test1</span>
<svg class="i" style="left:1630.7px;top:3125.9px;width:15.2px;height:15.2px;color:#141414;"><use href="#info"/></svg>
<span class="t" style="left:1877.3px;top:3129.0px;font-size:12.00px;letter-spacing:-0.015px;color:#212121;">&lt;redacted&gt;</span>
<div class="b" style="left:6.0px;top:3149.0px;width:2242.0px;height:26.0px;background:#f0676b;"></div>
<svg class="i" style="left:42.3px;top:3154.4px;width:18.0px;height:16.0px;color:#b8891f;"><use href="#cdots"/></svg>
<svg class="i" style="left:136.3px;top:3154.1px;width:16.2px;height:16.2px;color:#6aa2f2;"><use href="#playc"/></svg>
<span class="t" style="left:195.8px;top:3156.0px;font-size:12.00px;letter-spacing:-0.201px;color:#212121;">01/20/2026 06:49:20.427 AM CET</span>
<span class="t" style="left:382.6px;top:3156.0px;font-size:12.00px;letter-spacing:-0.103px;color:#212121;">Checkout Warning Message</span>
<span class="t" style="left:756.2px;top:3156.0px;font-size:12.00px;letter-spacing:-0.533px;color:#212121;">INPUT_INVALID</span>
<span class="t" style="left:1130.1px;top:3156.0px;font-size:12.00px;letter-spacing:-0.068px;color:#212121;">Enter the CVV or security code on your card</span>
<span class="t" style="left:1503.7px;top:3156.0px;font-size:12.00px;letter-spacing:-0.049px;color:#212121;">Checkout - gapm-test1</span>
<svg class="i" style="left:1630.7px;top:3152.9px;width:15.2px;height:15.2px;color:#141414;"><use href="#info"/></svg>
<span class="t" style="left:1877.3px;top:3156.0px;font-size:12.00px;letter-spacing:-0.015px;color:#212121;">&lt;redacted&gt;</span>
<div class="b" style="left:6.0px;top:3176.0px;width:2242.0px;height:26.0px;background:#f0676b;"></div>
<svg class="i" style="left:42.3px;top:3181.4px;width:18.0px;height:16.0px;color:#b8891f;"><use href="#cdots"/></svg>
<svg class="i" style="left:136.3px;top:3181.1px;width:16.2px;height:16.2px;color:#6aa2f2;"><use href="#playc"/></svg>
<span class="t" style="left:195.8px;top:3183.0px;font-size:12.00px;letter-spacing:-0.201px;color:#212121;">01/20/2026 06:49:27.439 AM CET</span>
<span class="t" style="left:382.6px;top:3183.0px;font-size:12.00px;letter-spacing:-0.103px;color:#212121;">Checkout Warning Message</span>
<span class="t" style="left:756.2px;top:3183.0px;font-size:12.00px;letter-spacing:-0.533px;color:#212121;">INPUT_INVALID</span>
<span class="t" style="left:1130.1px;top:3183.0px;font-size:12.00px;letter-spacing:0.013px;color:#212121;">Enter a valid discount code or gift card</span>
<span class="t" style="left:1503.7px;top:3183.0px;font-size:12.00px;letter-spacing:-0.049px;color:#212121;">Checkout - gapm-test1</span>
<svg class="i" style="left:1630.7px;top:3179.9px;width:15.2px;height:15.2px;color:#141414;"><use href="#info"/></svg>
<span class="t" style="left:1877.3px;top:3183.0px;font-size:12.00px;letter-spacing:0.122px;color:#212121;">sdfsdfsdfdsf</span>
<div class="b" style="left:6.0px;top:3203.0px;width:2242.0px;height:26.0px;background:#f0676b;"></div>
<svg class="i" style="left:42.3px;top:3208.4px;width:18.0px;height:16.0px;color:#b8891f;"><use href="#cdots"/></svg>
<svg class="i" style="left:136.3px;top:3208.1px;width:16.2px;height:16.2px;color:#6aa2f2;"><use href="#playc"/></svg>
<span class="t" style="left:195.8px;top:3210.0px;font-size:12.00px;letter-spacing:-0.201px;color:#212121;">01/20/2026 06:50:06.670 AM CET</span>
<span class="t" style="left:382.6px;top:3210.0px;font-size:12.00px;letter-spacing:-0.103px;color:#212121;">Checkout Warning Message</span>
<span class="t" style="left:756.2px;top:3210.0px;font-size:12.00px;letter-spacing:-0.533px;color:#212121;">INPUT_INVALID</span>
<span class="t" style="left:1130.1px;top:3210.0px;font-size:12.00px;letter-spacing:0.013px;color:#212121;">Enter a valid discount code or gift card</span>
<span class="t" style="left:1503.7px;top:3210.0px;font-size:12.00px;letter-spacing:-0.049px;color:#212121;">Checkout - gapm-test1</span>
<svg class="i" style="left:1630.7px;top:3206.9px;width:15.2px;height:15.2px;color:#141414;"><use href="#info"/></svg>
<span class="t" style="left:1877.3px;top:3210.0px;font-size:12.00px;letter-spacing:0.056px;color:#212121;">rtdxvgresdcsdfsef</span>
<div class="panel" style="left:6.0px;top:3334.0px;width:2242.0px;height:298.2px;overflow:hidden;">
</div>
<span class="t" style="left:18.2px;top:3344.5px;font-size:16.00px;letter-spacing:0.105px;color:#212121;">Shopify Session</span>
<svg class="i" style="left:2224.0px;top:3344.5px;width:16.0px;height:16.0px;color:#757575;"><use href="#window"/></svg>
<svg class="i" style="left:2200.0px;top:3344.5px;width:16.0px;height:16.0px;color:#757575;"><use href="#pencil"/></svg>
<svg class="i" style="left:2175.7px;top:3344.5px;width:16.5px;height:16.0px;color:#757575;"><use href="#csv"/></svg>
<span class="t" style="left:11.5px;top:3377.5px;font-size:12.00px;letter-spacing:-0.768px;color:#111;font-weight:bold;">NOTES</span>
<svg class="i" style="left:101.8px;top:3391.5px;width:9.5px;height:9.5px;color:#333;"><use href="#rsz"/></svg>
<span class="t" style="left:118.3px;top:3377.5px;font-size:12.00px;letter-spacing:-0.250px;color:#111;font-weight:bold;">ID</span>
<svg class="i" style="left:133.4px;top:3375.0px;width:8px;height:13px"><use href="#sortn"/></svg>
<svg class="i" style="left:208.6px;top:3391.5px;width:9.5px;height:9.5px;color:#333;"><use href="#rsz"/></svg>
<span class="t" style="left:225.1px;top:3377.5px;font-size:12.00px;letter-spacing:-0.466px;color:#111;font-weight:bold;">TIME</span>
<svg class="i" style="left:255.5px;top:3375.0px;width:8px;height:13px"><use href="#sortup"/></svg>
<svg class="i" style="left:422.2px;top:3391.5px;width:9.5px;height:9.5px;color:#333;"><use href="#rsz"/></svg>
<span class="t" style="left:438.7px;top:3377.5px;font-size:12.00px;letter-spacing:-0.834px;color:#111;font-weight:bold;">CATEGORY</span>
<svg class="i" style="left:502.3px;top:3375.0px;width:8px;height:13px"><use href="#sortn"/></svg>
<svg class="i" style="left:849.4px;top:3391.5px;width:9.5px;height:9.5px;color:#333;"><use href="#rsz"/></svg>
<span class="t" style="left:865.9px;top:3377.5px;font-size:12.00px;letter-spacing:-0.583px;color:#111;font-weight:bold;">NAME</span>
<svg class="i" style="left:902.5px;top:3375.0px;width:8px;height:13px"><use href="#sortn"/></svg>
<svg class="i" style="left:1276.6px;top:3391.5px;width:9.5px;height:9.5px;color:#333;"><use href="#rsz"/></svg>
<span class="t" style="left:1293.1px;top:3377.5px;font-size:12.00px;letter-spacing:-0.619px;color:#111;font-weight:bold;">PRODUCT</span>
<svg class="i" style="left:1351.7px;top:3375.0px;width:8px;height:13px"><use href="#sortn"/></svg>
<svg class="i" style="left:1703.8px;top:3391.5px;width:9.5px;height:9.5px;color:#333;"><use href="#rsz"/></svg>
<span class="t" style="left:1720.3px;top:3377.5px;font-size:12.00px;letter-spacing:-0.779px;color:#111;font-weight:bold;">PAGE</span>
<svg class="i" style="left:1753.9px;top:3375.0px;width:8px;height:13px"><use href="#sortn"/></svg>
<svg class="i" style="left:2131.0px;top:3391.5px;width:9.5px;height:9.5px;color:#333;"><use href="#rsz"/></svg>
<span class="t" style="left:2147.5px;top:3377.5px;font-size:12.00px;letter-spacing:-0.635px;color:#111;font-weight:bold;">DETAILS</span>
<svg class="i" style="left:2197.1px;top:3375.0px;width:8px;height:13px"><use href="#sortn"/></svg>
<svg class="i" style="left:2237.8px;top:3391.5px;width:9.5px;height:9.5px;color:#333;"><use href="#rsz"/></svg>
<div class="b" style="left:6.0px;top:3402.0px;width:2232.0px;height:1.0px;background:#e0e0e0;"></div>
<div class="b" style="left:0;top:3403px;width:2261px;height:229.2px;overflow:hidden">
<div class="b" style="left:6.0px;top:26.0px;width:2232.0px;height:1.0px;background:#f0f0f0;"></div>
<svg class="i" style="left:48.8px;top:5.4px;width:18.0px;height:16.0px;color:#b2841b;"><use href="#cdots"/></svg>
<svg class="i" style="left:156.9px;top:5.1px;width:16.2px;height:16.2px;color:#4aa0fa;"><use href="#playc"/></svg>
<span class="t" style="left:222.9px;top:7.0px;font-size:12.00px;letter-spacing:-0.201px;color:#212121;">01/20/2026 06:48:39.154 AM CET</span>
<span class="t" style="left:436.5px;top:7.0px;font-size:12.00px;letter-spacing:-0.063px;color:#212121;">Browser:Event:Shopify</span>
<span class="t" style="left:863.7px;top:7.0px;font-size:12.00px;letter-spacing:-0.275px;color:#212121;">Page Viewed</span>
<span class="t" style="left:1290.9px;top:8.8px;font-size:9.60px;letter-spacing:0.403px;color:#c4c4c4;font-style:italic;">none</span>
<span class="t" style="left:1718.1px;top:7.0px;font-size:12.00px;letter-spacing:0.053px;color:#212121;">gapm-test1</span>
<svg class="i" style="left:1785.3px;top:3.9px;width:15.2px;height:15.2px;color:#141414;"><use href="#info"/></svg>
<svg class="i" style="left:2182.8px;top:3.9px;width:15.2px;height:15.2px;color:#141414;"><use href="#info"/></svg>
<div class="b" style="left:6.0px;top:27.0px;width:2232.0px;height:26.0px;background:#a0fb8e;"></div>
<svg class="i" style="left:48.8px;top:32.4px;width:18.0px;height:16.0px;color:#b2841b;"><use href="#cdots"/></svg>
<svg class="i" style="left:156.9px;top:32.1px;width:16.2px;height:16.2px;color:#4aa0fa;"><use href="#playc"/></svg>
<span class="t" style="left:222.9px;top:34.0px;font-size:12.00px;letter-spacing:-0.201px;color:#212121;">01/20/2026 06:48:47.712 AM CET</span>
<span class="t" style="left:436.5px;top:34.0px;font-size:12.00px;letter-spacing:-0.018px;color:#212121;">Browser:Product Viewed:Shopify</span>
<span class="t" style="left:863.7px;top:34.0px;font-size:12.00px;letter-spacing:-0.020px;color:#212121;">Product Viewed</span>
<span class="t" style="left:1290.9px;top:34.0px;font-size:12.00px;letter-spacing:-0.082px;color:#212121;">The Compare at Price Snowboard</span>
<span class="t" style="left:1718.1px;top:34.0px;font-size:12.00px;letter-spacing:-0.083px;color:#212121;">The Compare at Price Snowboard – gapm-test1</span>
<svg class="i" style="left:1975.9px;top:30.9px;width:15.2px;height:15.2px;color:#141414;"><use href="#info"/></svg>
<svg class="i" style="left:2182.8px;top:30.9px;width:15.2px;height:15.2px;color:#141414;"><use href="#info"/></svg>
<div class="b" style="left:6.0px;top:80.0px;width:2232.0px;height:1.0px;background:#f0f0f0;"></div>
<svg class="i" style="left:48.8px;top:59.4px;width:18.0px;height:16.0px;color:#b2841b;"><use href="#cdots"/></svg>
<svg class="i" style="left:156.9px;top:59.1px;width:16.2px;height:16.2px;color:#4aa0fa;"><use href="#playc"/></svg>
<span class="t" style="left:222.9px;top:61.0px;font-size:12.00px;letter-spacing:-0.201px;color:#212121;">01/20/2026 06:48:47.714 AM CET</span>
<span class="t" style="left:436.5px;top:61.0px;font-size:12.00px;letter-spacing:-0.063px;color:#212121;">Browser:Event:Shopify</span>
<span class="t" style="left:863.7px;top:61.0px;font-size:12.00px;letter-spacing:-0.275px;color:#212121;">Page Viewed</span>
<span class="t" style="left:1290.9px;top:62.8px;font-size:9.60px;letter-spacing:0.403px;color:#c4c4c4;font-style:italic;">none</span>
<span class="t" style="left:1718.1px;top:61.0px;font-size:12.00px;letter-spacing:-0.083px;color:#212121;">The Compare at Price Snowboard – gapm-test1</span>
<svg class="i" style="left:1975.9px;top:57.9px;width:15.2px;height:15.2px;color:#141414;"><use href="#info"/></svg>
<svg class="i" style="left:2182.8px;top:57.9px;width:15.2px;height:15.2px;color:#141414;"><use href="#info"/></svg>
<div class="b" style="left:6.0px;top:81.0px;width:2232.0px;height:26.0px;background:#a0fb8e;"></div>
<svg class="i" style="left:48.8px;top:86.4px;width:18.0px;height:16.0px;color:#b2841b;"><use href="#cdots"/></svg>
<svg class="i" style="left:156.9px;top:86.1px;width:16.2px;height:16.2px;color:#4aa0fa;"><use href="#playc"/></svg>
<span class="t" style="left:222.9px;top:88.0px;font-size:12.00px;letter-spacing:-0.201px;color:#212121;">01/20/2026 06:48:49.814 AM CET</span>
<span class="t" style="left:436.5px;top:88.0px;font-size:12.00px;letter-spacing:0.027px;color:#212121;">Browser:Product Added:Shopify</span>
<span class="t" style="left:863.7px;top:88.0px;font-size:12.00px;letter-spacing:0.081px;color:#212121;">Product Added</span>
<span class="t" style="left:1290.9px;top:88.0px;font-size:12.00px;letter-spacing:-0.082px;color:#212121;">The Compare at Price Snowboard</span>
<span class="t" style="left:1718.1px;top:88.0px;font-size:12.00px;letter-spacing:-0.083px;color:#212121;">The Compare at Price Snowboard – gapm-test1</span>
<svg class="i" style="left:1975.9px;top:84.9px;width:15.2px;height:15.2px;color:#141414;"><use href="#info"/></svg>
<svg class="i" style="left:2182.8px;top:84.9px;width:15.2px;height:15.2px;color:#141414;"><use href="#info"/></svg>
<div class="b" style="left:6.0px;top:134.0px;width:2232.0px;height:1.0px;background:#f0f0f0;"></div>
<svg class="i" style="left:48.8px;top:113.4px;width:18.0px;height:16.0px;color:#b2841b;"><use href="#cdots"/></svg>
<svg class="i" style="left:156.9px;top:113.1px;width:16.2px;height:16.2px;color:#4aa0fa;"><use href="#playc"/></svg>
<span class="t" style="left:222.9px;top:115.0px;font-size:12.00px;letter-spacing:-0.201px;color:#212121;">01/20/2026 06:48:55.370 AM CET</span>
<span class="t" style="left:436.5px;top:115.0px;font-size:12.00px;letter-spacing:-0.063px;color:#212121;">Browser:Event:Shopify</span>
<span class="t" style="left:863.7px;top:115.0px;font-size:12.00px;letter-spacing:-0.275px;color:#212121;">Page Viewed</span>
<span class="t" style="left:1290.9px;top:116.8px;font-size:9.60px;letter-spacing:0.403px;color:#c4c4c4;font-style:italic;">none</span>
<span class="t" style="left:1718.1px;top:115.0px;font-size:12.00px;letter-spacing:-0.043px;color:#212121;">Search: 0 results found for "swdgsgsdg" – gapm-test1</span>
<svg class="i" style="left:2008.5px;top:111.9px;width:15.2px;height:15.2px;color:#141414;"><use href="#info"/></svg>
<svg class="i" style="left:2182.8px;top:111.9px;width:15.2px;height:15.2px;color:#141414;"><use href="#info"/></svg>
<div class="b" style="left:6.0px;top:135.0px;width:2232.0px;height:26.0px;background:#a0fb8e;"></div>
<svg class="i" style="left:48.8px;top:140.4px;width:18.0px;height:16.0px;color:#b2841b;"><use href="#cdots"/></svg>
<svg class="i" style="left:156.9px;top:140.1px;width:16.2px;height:16.2px;color:#4aa0fa;"><use href="#playc"/></svg>
<span class="t" style="left:222.9px;top:142.0px;font-size:12.00px;letter-spacing:-0.201px;color:#212121;">01/20/2026 06:49:01.885 AM CET</span>
<span class="t" style="left:436.5px;top:142.0px;font-size:12.00px;letter-spacing:-0.033px;color:#212121;">Browser:Checkout:Shopify</span>
<span class="t" style="left:863.7px;top:142.0px;font-size:12.00px;letter-spacing:-0.043px;color:#212121;">Checkout Started</span>
<span class="t" style="left:1290.9px;top:142.0px;font-size:12.00px;letter-spacing:-0.082px;color:#212121;">The Compare at Price Snowboard</span>
<span class="t" style="left:1718.1px;top:142.0px;font-size:12.00px;letter-spacing:-0.049px;color:#212121;">Checkout - gapm-test1</span>
<svg class="i" style="left:1845.1px;top:138.9px;width:15.2px;height:15.2px;color:#141414;"><use href="#info"/></svg>
<svg class="i" style="left:2182.8px;top:138.9px;width:15.2px;height:15.2px;color:#141414;"><use href="#info"/></svg>
<div class="b" style="left:6.0px;top:188.0px;width:2232.0px;height:1.0px;background:#f0f0f0;"></div>
<svg class="i" style="left:48.8px;top:167.4px;width:18.0px;height:16.0px;color:#b2841b;"><use href="#cdots"/></svg>
<svg class="i" style="left:156.9px;top:167.1px;width:16.2px;height:16.2px;color:#4aa0fa;"><use href="#playc"/></svg>
<span class="t" style="left:222.9px;top:169.0px;font-size:12.00px;letter-spacing:-0.201px;color:#212121;">01/20/2026 06:49:01.889 AM CET</span>
<span class="t" style="left:436.5px;top:169.0px;font-size:12.00px;letter-spacing:-0.063px;color:#212121;">Browser:Event:Shopify</span>
<span class="t" style="left:863.7px;top:169.0px;font-size:12.00px;letter-spacing:-0.275px;color:#212121;">Page Viewed</span>
<span class="t" style="left:1290.9px;top:170.8px;font-size:9.60px;letter-spacing:0.403px;color:#c4c4c4;font-style:italic;">none</span>
<span class="t" style="left:1718.1px;top:169.0px;font-size:12.00px;letter-spacing:-0.049px;color:#212121;">Checkout - gapm-test1</span>
<svg class="i" style="left:1845.1px;top:165.9px;width:15.2px;height:15.2px;color:#141414;"><use href="#info"/></svg>
<svg class="i" style="left:2182.8px;top:165.9px;width:15.2px;height:15.2px;color:#141414;"><use href="#info"/></svg>
<div class="b" style="left:6.0px;top:189.0px;width:2232.0px;height:26.0px;background:#a0fb8e;"></div>
<svg class="i" style="left:48.8px;top:194.4px;width:18.0px;height:16.0px;color:#b2841b;"><use href="#cdots"/></svg>
<svg class="i" style="left:156.9px;top:194.1px;width:16.2px;height:16.2px;color:#4aa0fa;"><use href="#playc"/></svg>
<span class="t" style="left:222.9px;top:196.0px;font-size:12.00px;letter-spacing:-0.201px;color:#212121;">01/20/2026 06:49:04.538 AM CET</span>
<span class="t" style="left:436.5px;top:196.0px;font-size:12.00px;letter-spacing:-0.033px;color:#212121;">Browser:Checkout:Shopify</span>
<span class="t" style="left:863.7px;top:196.0px;font-size:12.00px;letter-spacing:0.067px;color:#212121;">Contact Info Submitted</span>
<span class="t" style="left:1290.9px;top:196.0px;font-size:12.00px;letter-spacing:-0.082px;color:#212121;">The Compare at Price Snowboard</span>
<span class="t" style="left:1718.1px;top:196.0px;font-size:12.00px;letter-spacing:-0.049px;color:#212121;">Checkout - gapm-test1</span>
<svg class="i" style="left:1845.1px;top:192.9px;width:15.2px;height:15.2px;color:#141414;"><use href="#info"/></svg>
<svg class="i" style="left:2182.8px;top:192.9px;width:15.2px;height:15.2px;color:#141414;"><use href="#info"/></svg>
<div class="b" style="left:6.0px;top:216.0px;width:2232.0px;height:26.0px;background:#a0fb8e;"></div>
<svg class="i" style="left:48.8px;top:221.4px;width:18.0px;height:16.0px;color:#b2841b;"><use href="#cdots"/></svg>
<svg class="i" style="left:156.9px;top:221.1px;width:16.2px;height:16.2px;color:#4aa0fa;"><use href="#playc"/></svg>
<span class="t" style="left:222.9px;top:223.0px;font-size:12.00px;letter-spacing:-0.201px;color:#212121;">01/20/2026 06:49:16.888 AM CET</span>
<span class="t" style="left:436.5px;top:223.0px;font-size:12.00px;letter-spacing:-0.033px;color:#212121;">Browser:Checkout:Shopify</span>
<span class="t" style="left:863.7px;top:223.0px;font-size:12.00px;letter-spacing:0.047px;color:#212121;">Address Info Submitted</span>
<span class="t" style="left:1290.9px;top:223.0px;font-size:12.00px;letter-spacing:-0.082px;color:#212121;">The Compare at Price Snowboard</span>
<span class="t" style="left:1718.1px;top:223.0px;font-size:12.00px;letter-spacing:-0.049px;color:#212121;">Checkout - gapm-test1</span>
<svg class="i" style="left:1845.1px;top:219.9px;width:15.2px;height:15.2px;color:#141414;"><use href="#info"/></svg>
<svg class="i" style="left:2182.8px;top:219.9px;width:15.2px;height:15.2px;color:#141414;"><use href="#info"/></svg>
</div>
<div class="b" style="left:2238.5px;top:3403px;width:9.5px;height:229.2px;background:#fff;border:1px solid #e4e4e4;border-radius:5px 5px 0 0;border-bottom:none;box-sizing:border-box"></div>
<div class="b" style="left:2239.6px;top:3404px;width:7.6px;height:146.5px;background:#e6e6e6;border:1px solid #d2d2d2;border-radius:4px;box-sizing:border-box"></div>
</body></html>
